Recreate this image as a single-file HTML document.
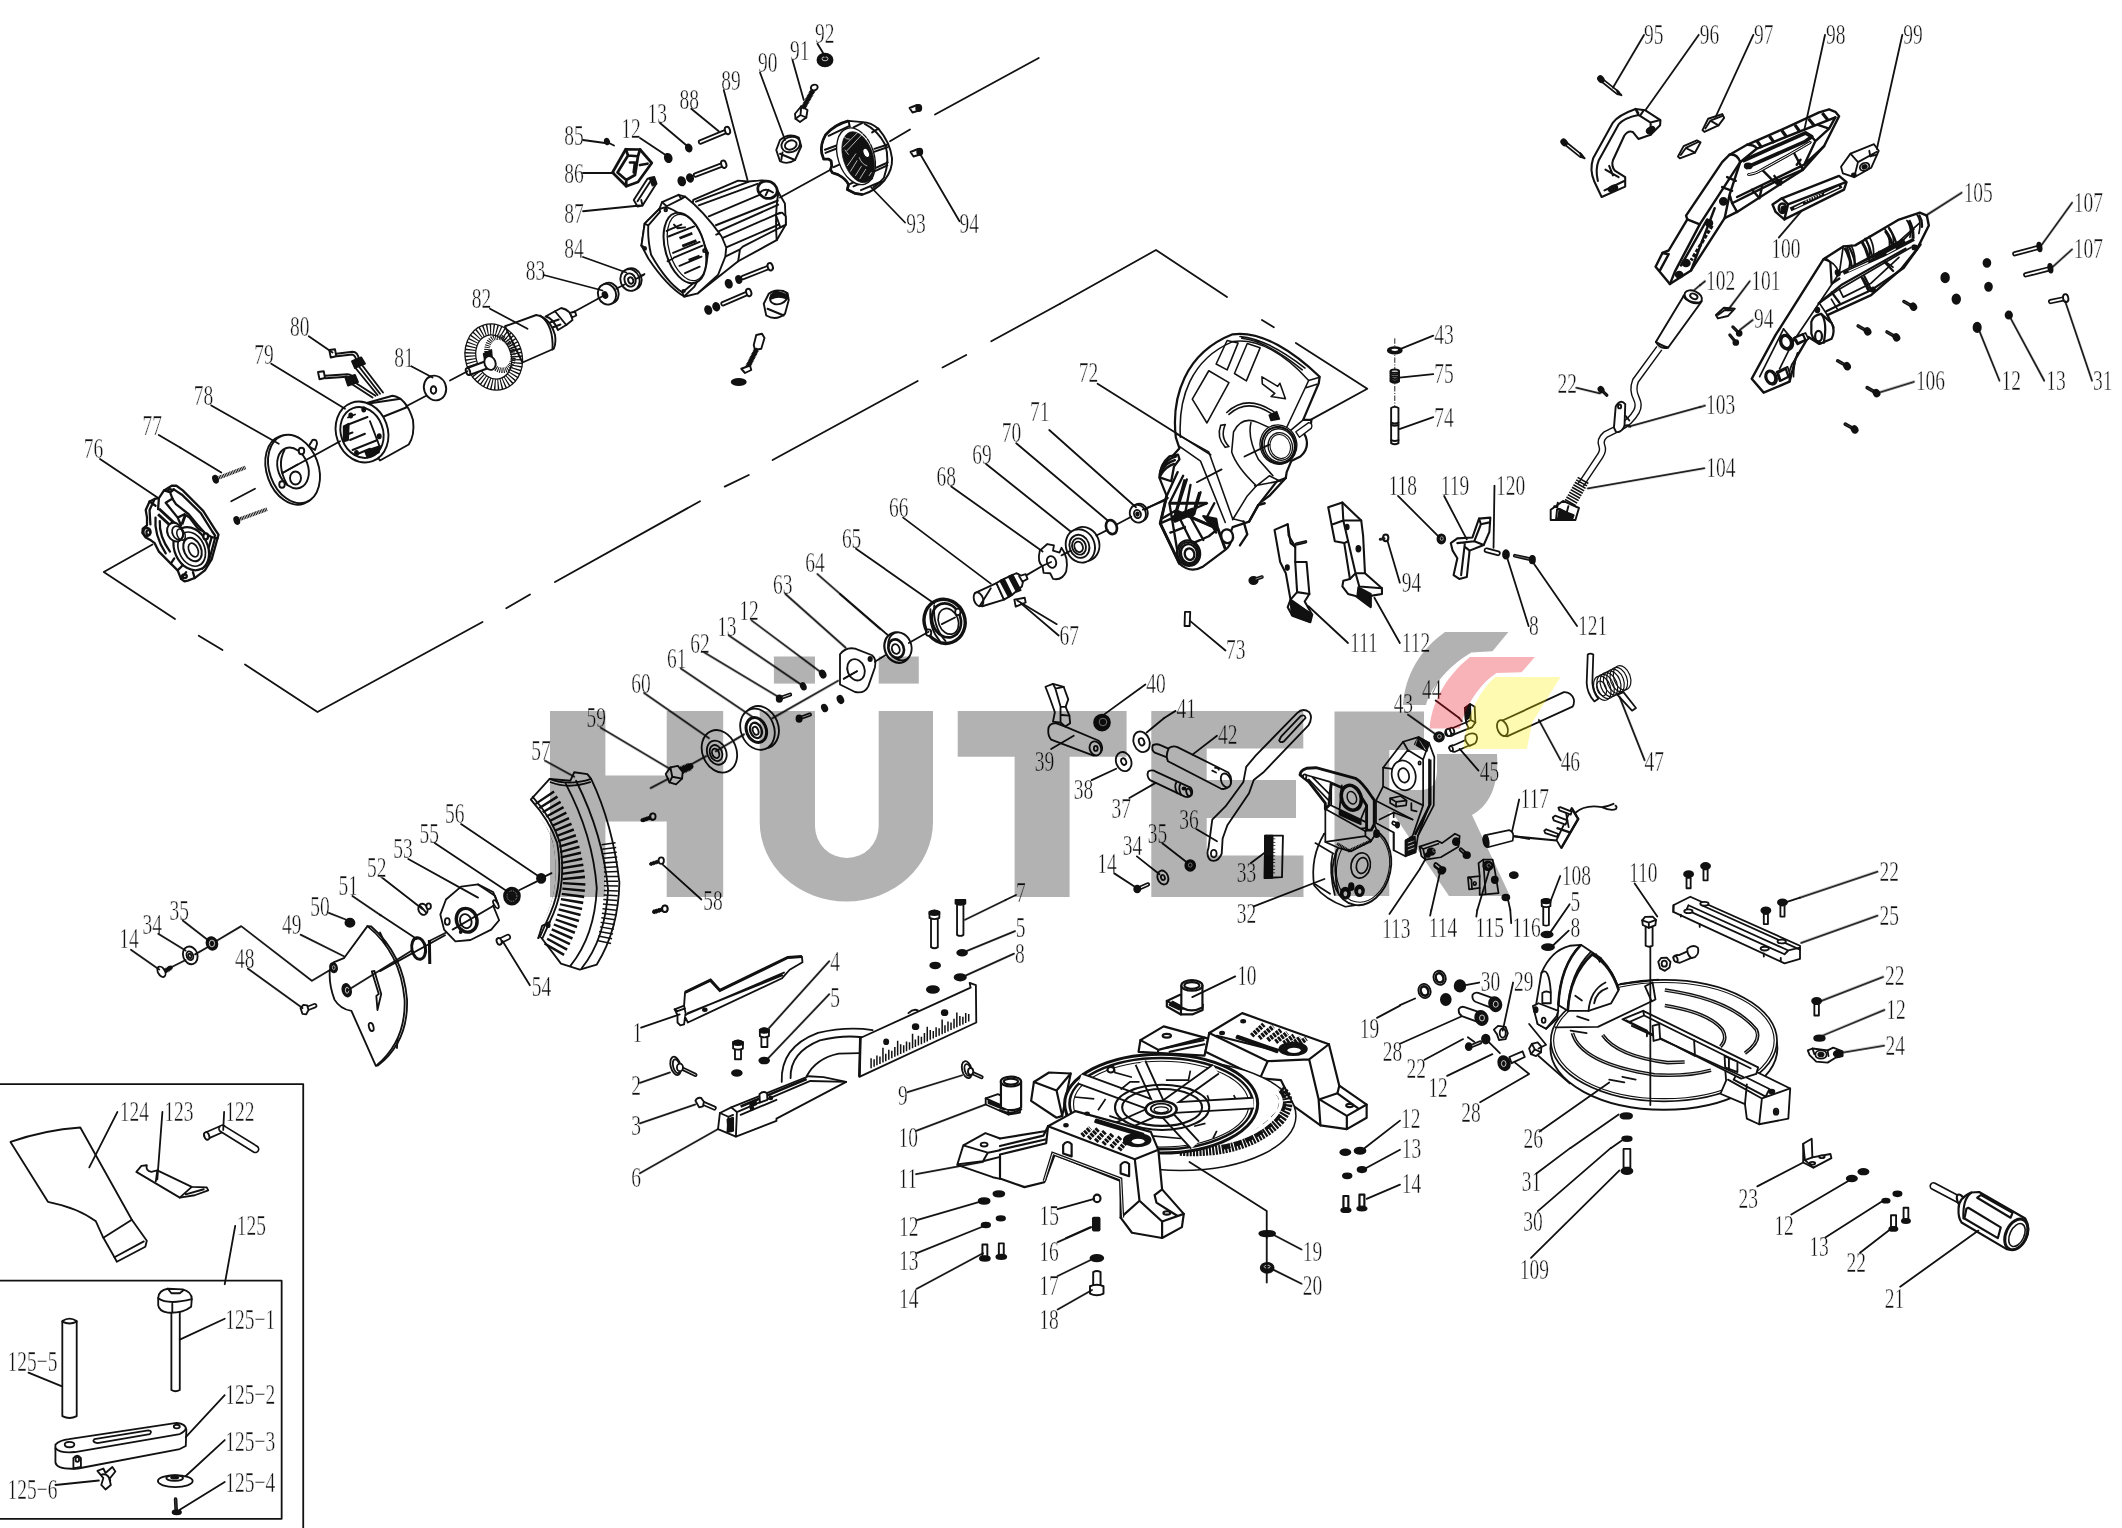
<!DOCTYPE html>
<html><head><meta charset="utf-8"><title>Exploded view</title>
<style>
html,body{margin:0;padding:0;background:#fff;}
svg{display:block}
.n{font-family:"Liberation Serif",serif;font-size:29.5px;fill:#111;stroke:#fff;stroke-width:0.45px}
.l{fill:none;stroke:#111;stroke-linecap:round;stroke-linejoin:round}
.p{fill:none;stroke:#111;stroke-linecap:round;stroke-linejoin:round}
.o{fill:#fff;stroke:#111;stroke-linecap:round;stroke-linejoin:round}
.d{fill:#111;stroke:#111;stroke-linejoin:round}
.t{fill:none;stroke:#111;stroke-linecap:butt}
</style></head>
<body>
<svg width="2122" height="1528" viewBox="0 0 2122 1528">
<rect width="2122" height="1528" fill="#fff"/>
<g transform="translate(180,200) scale(0.25000)" stroke-width="7.60">
<line x1="150" y1="1113" x2="262" y2="1070" stroke="#111" stroke-width="15" stroke-dasharray="4 2.5"/>
<ellipse cx="142" cy="1117" rx="9" ry="14" transform="rotate(-20 142 1117)" class="d"/>
<line x1="235" y1="1278" x2="348" y2="1237" stroke="#111" stroke-width="15" stroke-dasharray="4 2.5"/>
<ellipse cx="227" cy="1282" rx="9" ry="14" transform="rotate(-20 227 1282)" class="d"/>
<path d="M515,985 L530,960 Q548,955 548,975 L540,1000 Z" class="o"/>
<ellipse cx="447" cy="1080" rx="100" ry="143" transform="rotate(-20 447 1080)" class="o"/>
<ellipse cx="456" cy="1076" rx="98" ry="141" transform="rotate(-20 456 1076)" class="o"/>
<ellipse cx="452" cy="1072" rx="60" ry="84" transform="rotate(-20 452 1072)" class="o"/>
<path d="M418,1000 Q385,1060 428,1138" class="p"/>
<ellipse cx="486" cy="1004" rx="11" ry="13" transform="rotate(0 486 1004)" class="o"/>
<ellipse cx="408" cy="1138" rx="11" ry="13" transform="rotate(0 408 1138)" class="o"/>
<ellipse cx="462" cy="1112" rx="22" ry="26" transform="rotate(0 462 1112)" class="o"/>
<path d="M655,838 L850,783 Q905,790 932,880 Q940,940 915,978 L800,1042 Z" class="o"/>
<path d="M700,822 L882,795" class="p"/>
<path d="M905,830 L780,880" class="p"/>
<ellipse cx="728" cy="928" rx="103" ry="124" transform="rotate(-20 728 928)" class="o"/>
<ellipse cx="728" cy="930" rx="84" ry="104" transform="rotate(-20 728 930)" class="o"/>
<path d="M668,900 L750,868 M662,940 L690,930 M690,1000 L790,960 M700,1020 L760,995 M672,870 L700,858 M760,885 L800,990 M680,960 L740,935" class="p"/>
<path d="M740,1005 L800,985 L795,1010 L750,1030 Z" class="d"/>
<path d="M655,905 L675,895 L672,960 L655,965 Z" class="d"/>
<ellipse cx="683" cy="862" rx="6" ry="8" transform="rotate(0 683 862)" class="d"/>
<ellipse cx="735" cy="838" rx="6" ry="8" transform="rotate(0 735 838)" class="d"/>
<ellipse cx="797" cy="945" rx="6" ry="8" transform="rotate(0 797 945)" class="d"/>
<ellipse cx="706" cy="1012" rx="6" ry="8" transform="rotate(0 706 1012)" class="d"/>
<path d="M597,600 L620,597 L625,625 L603,630 Z" class="o"/>
<path d="M625,615 L690,607 Q712,607 716,640 M628,625 L688,618 Q702,620 706,645" class="p"/>
<path d="M688,645 L725,630 L740,655 L700,672 Z" class="d"/>
<path d="M715,665 L800,775 M728,660 L812,770 M702,672 L790,780" class="p"/>
<path d="M552,688 L575,685 L580,712 L558,717 Z" class="o"/>
<path d="M580,703 L670,697 Q690,698 692,715 M582,713 L668,707" class="p"/>
<path d="M662,712 L700,700 L712,728 L672,742 Z" class="d"/>
<path d="M690,738 L770,790 M700,730 L782,783" class="p"/>
<ellipse cx="1020" cy="752" rx="44" ry="50" transform="rotate(-20 1020 752)" class="o"/>
<ellipse cx="1014" cy="760" rx="11" ry="15" transform="rotate(0 1014 760)" class="o"/>
<path d="M1300,505 L1425,460 Q1480,470 1500,540 Q1505,575 1495,595 L1370,650 Z" class="o"/>
<path d="M1440,462 Q1495,500 1490,598" class="p"/>
<path d="M1462,466 L1500,445 Q1540,455 1545,500 L1512,520 Q1490,470 1462,466 Z" class="o"/>
<path d="M1500,445 L1525,432 Q1565,440 1570,480 L1545,500 Z" class="o"/>
<path d="M1560,452 L1580,446 L1585,462 L1568,470 Z" class="o"/>
<path d="M1480,490 L1515,478 M1490,510 L1522,498" class="p"/>
<ellipse cx="1255" cy="628" rx="92" ry="112" transform="rotate(-18 1255 628)" fill="none" stroke="#111" stroke-width="44" stroke-dasharray="5 7.5"/>
<ellipse cx="1255" cy="628" rx="113" ry="134" transform="rotate(-18 1255 628)" fill="none" stroke="#111" stroke-width="5"/>
<ellipse cx="1255" cy="628" rx="70" ry="90" transform="rotate(-18 1255 628)" fill="#fff" stroke="#111" stroke-width="5"/>
<ellipse cx="1280" cy="615" rx="50" ry="68" transform="rotate(-18 1280 615)" fill="none" stroke="#111" stroke-width="22" stroke-dasharray="4 4"/>
<path d="M1215,615 L1245,600 L1250,660 L1225,670 Z" class="d"/>
<path d="M1150,672 L1235,640 L1245,668 L1158,700 Z" class="o"/>
<ellipse cx="1152" cy="686" rx="8" ry="14" transform="rotate(-20 1152 686)" class="o"/>
<ellipse cx="1240" cy="652" rx="22" ry="28" transform="rotate(-20 1240 652)" class="o"/>
<ellipse cx="1718" cy="372" rx="36" ry="42" transform="rotate(-20 1718 372)" class="o"/>
<ellipse cx="1708" cy="377" rx="36" ry="42" transform="rotate(-20 1708 377)" class="o"/>
<ellipse cx="1700" cy="380" rx="9" ry="12" transform="rotate(-20 1700 380)" class="d"/>
<ellipse cx="1808" cy="316" rx="38" ry="44" transform="rotate(-20 1808 316)" class="o"/>
<ellipse cx="1800" cy="320" rx="38" ry="44" transform="rotate(-20 1800 320)" class="o"/>
<ellipse cx="1800" cy="320" rx="22" ry="27" transform="rotate(-20 1800 320)" class="o"/>
<ellipse cx="1803" cy="322" rx="10" ry="13" transform="rotate(-20 1803 322)" class="o"/>
</g>
<g transform="translate(530,0) scale(0.25000)" stroke-width="7.60">
<ellipse cx="308" cy="566" rx="8" ry="11" transform="rotate(-20 308 566)" class="d"/>
<g stroke-width="10.98">
<path d="M330,690 L383,597 L440,598 L487,652 L432,728 L385,745 Z" class="o"/>
<path d="M350,690 L392,622 L432,625 L420,700 L385,720 Z M385,745 L385,720 M392,622 L383,597 M432,625 L440,598 M400,650 L420,650 L415,690 M440,660 L470,655" class="p"/>
</g>
<path d="M415,800 L470,715 L495,712 L505,735 L450,822 L430,826 Z" class="o"/>
<path d="M430,805 L480,728 M450,822 L445,800" class="p"/>
<path d="M478,712 L497,708 L506,735 L490,742 Z" class="d"/>
<ellipse cx="553" cy="632" rx="13" ry="17" transform="rotate(-20 553 632)" class="d"/>
<ellipse cx="635" cy="592" rx="11" ry="14" transform="rotate(-20 635 592)" class="d"/>
<ellipse cx="607" cy="725" rx="13" ry="17" transform="rotate(-20 607 725)" class="d"/>
<ellipse cx="640" cy="712" rx="12" ry="15" transform="rotate(-20 640 712)" class="d"/>
<ellipse cx="795" cy="1135" rx="12" ry="16" transform="rotate(-20 795 1135)" class="d"/>
<ellipse cx="835" cy="1118" rx="10" ry="14" transform="rotate(-20 835 1118)" class="d"/>
<ellipse cx="713" cy="1240" rx="12" ry="16" transform="rotate(-20 713 1240)" class="d"/>
<ellipse cx="745" cy="1227" rx="12" ry="15" transform="rotate(-20 745 1227)" class="d"/>
<line x1="682" y1="568" x2="788" y2="524" stroke="#111" stroke-width="21" stroke-linecap="round"/><line x1="682" y1="568" x2="788" y2="524" stroke="#fff" stroke-width="7.4" stroke-linecap="round"/>
<ellipse cx="790" cy="522" rx="10" ry="15" transform="rotate(-20 790 522)" class="o"/>
<line x1="662" y1="700" x2="772" y2="658" stroke="#111" stroke-width="21" stroke-linecap="round"/><line x1="662" y1="700" x2="772" y2="658" stroke="#fff" stroke-width="7.4" stroke-linecap="round"/>
<ellipse cx="775" cy="657" rx="10" ry="15" transform="rotate(-20 775 657)" class="o"/>
<line x1="852" y1="1110" x2="958" y2="1068" stroke="#111" stroke-width="21" stroke-linecap="round"/><line x1="852" y1="1110" x2="958" y2="1068" stroke="#fff" stroke-width="7.4" stroke-linecap="round"/>
<ellipse cx="961" cy="1067" rx="10" ry="15" transform="rotate(-20 961 1067)" class="o"/>
<line x1="772" y1="1215" x2="872" y2="1172" stroke="#111" stroke-width="21" stroke-linecap="round"/><line x1="772" y1="1215" x2="872" y2="1172" stroke="#fff" stroke-width="7.4" stroke-linecap="round"/>
<ellipse cx="875" cy="1170" rx="10" ry="15" transform="rotate(-20 875 1170)" class="o"/>
<path d="M985,600 L1000,560 Q1035,530 1075,550 L1085,585 L1060,640 Q1030,660 1000,645 Z" class="o"/>
<ellipse cx="1043" cy="578" rx="38" ry="30" transform="rotate(-20 1043 578)" class="o"/>
<ellipse cx="1043" cy="580" rx="24" ry="18" transform="rotate(-20 1043 580)" class="o"/>
<path d="M1000,615 L1060,640 M1005,640 L1010,610" class="p"/>
<path d="M935,1215 L955,1175 Q985,1150 1030,1172 L1035,1200 L1020,1255 Q985,1285 945,1262 Z" class="o"/>
<ellipse cx="995" cy="1190" rx="36" ry="26" transform="rotate(-20 995 1190)" class="o"/>
<path d="M965,1180 Q995,1160 1025,1180 L1028,1195 Q995,1180 965,1195 Z" class="d"/>
<path d="M950,1235 L1015,1262" class="p"/>
<path d="M1060,455 L1085,425 L1110,440 L1105,470 L1080,488 L1062,475 Z" class="o"/>
<path d="M1085,425 L1082,460 L1105,470 M1082,460 L1062,475" class="p"/>
<line x1="1095" y1="428" x2="1135" y2="355" stroke="#111" stroke-width="17.16" stroke-linecap="round"/><line x1="1095" y1="428" x2="1135" y2="355" stroke="#111" stroke-width="22" stroke-dasharray="3.6 2.8"/>
<ellipse cx="1137" cy="350" rx="14" ry="11" transform="rotate(-20 1137 350)" class="o"/>
<path d="M905,1340 L928,1335 L938,1352 L925,1395 L900,1400 L895,1380 Z" class="o"/>
<line x1="905" y1="1400" x2="870" y2="1470" stroke="#111" stroke-width="17.16" stroke-linecap="round"/><line x1="905" y1="1400" x2="870" y2="1470" stroke="#111" stroke-width="22" stroke-dasharray="3.6 2.8"/>
<path d="M845,1475 L880,1462 L885,1480 L860,1492 Z" class="o"/>
<ellipse cx="1180" cy="240" rx="30" ry="25" transform="rotate(0 1180 240)" class="d"/>
<ellipse cx="1180" cy="235" rx="12" ry="8" fill="none" stroke="#fff" stroke-width="3"/>
<ellipse cx="835" cy="1528" rx="28" ry="12" transform="rotate(0 835 1528)" class="d"/>
<path d="M1518,432 L1548,420 Q1568,425 1562,440 L1530,450 Z" class="o"/>
<ellipse cx="1555" cy="432" rx="10" ry="12" transform="rotate(0 1555 432)" class="d"/>
<path d="M1522,608 L1552,596 Q1572,601 1566,616 L1534,626 Z" class="o"/>
<ellipse cx="1559" cy="607" rx="10" ry="12" transform="rotate(0 1559 607)" class="d"/>
</g>
<g transform="translate(0,382) scale(0.25000)" stroke-width="7.60">
</g>
<g transform="translate(1130,320) scale(0.18325)" stroke-width="10.37">
<line x1="1445" y1="100" x2="1445" y2="480" stroke="#111" stroke-width="5" stroke-dasharray="30 8 6 8"/>
<ellipse cx="1445" cy="166" rx="38" ry="17" transform="rotate(0 1445 166)" class="d"/>
<ellipse cx="1445" cy="163" rx="18" ry="6" fill="#fff"/>
<path d="M1422,280 Q1445,265 1468,280 L1468,335 Q1445,350 1422,335 Z" class="o"/>
<path d="M1422,292 Q1445,305 1468,292 M1422,304 Q1445,317 1468,304 M1422,316 Q1445,329 1468,316 M1422,328 Q1445,341 1468,328" class="p"/>
<ellipse cx="1445" cy="279" rx="23" ry="9" transform="rotate(0 1445 279)" class="o"/>
<path d="M1425,480 Q1445,468 1465,480 L1465,672 Q1445,684 1425,672 Z" class="o"/>
<path d="M1425,560 Q1445,570 1465,560 M1425,572 Q1445,582 1465,572 M1425,655 Q1445,665 1465,655" class="p"/>
<g stroke-width="12.20">
<path d="M250,640 C225,420 300,180 560,78 C720,55 900,180 1035,310 L1030,345 L945,545 L990,545 L985,585 L940,600 L960,640 Q980,700 930,745 L880,770 L855,830 L850,862 L800,882 L700,1010 L650,1100 L560,1130 L548,1160 Q565,1220 520,1255 L400,1345 Q330,1385 270,1330 L165,1110 L200,960 L160,860 Q165,780 230,745 L270,700 Z" class="o"/>
</g>
<g stroke-width="8.54">
<path d="M275,640 C262,430 330,215 560,118 C700,95 850,190 975,330" class="p"/>
<path d="M975,330 L1035,312 M975,330 L838,622 M960,370 L1020,350 M838,622 L880,600 L945,545" class="p"/>
<path d="M600,90 C720,100 850,180 955,262 M610,100 C720,112 840,190 940,272" class="p"/>
<path d="M470,240 L530,112 L590,125 L530,272 Z" class="p"/>
<path d="M570,292 L640,128 L710,152 L635,332 Z" class="p"/>
<path d="M340,432 L430,277 L540,342 L420,562 Z" class="p"/>
<path d="M720,310 L806,362 L818,345 L848,430 L770,418 L790,400 L722,348 Z" class="p"/>
<path d="M528,505 Q640,400 790,505 M540,515 Q640,425 770,510" class="p"/>
<path d="M760,520 L800,500 L815,540 L770,548 Z" class="d"/>
<path d="M838,622 L700,560 Q610,520 565,610 L555,720 Q580,800 690,905 L640,960 L560,1090" class="p"/>
<path d="M680,905 L800,882 M690,905 L760,850 L820,880" class="p"/>
<path d="M660,560 Q640,640 700,760 L780,850" class="p"/>
<path d="M250,620 L430,720 L560,1085 L620,1100 M270,690 L385,770 L520,1105" class="p"/>
<path d="M495,575 L520,570 Q490,640 540,690 L520,695 Q470,640 495,575" class="p"/>
</g>
<g stroke-width="7.32">
<ellipse cx="810" cy="680" rx="100" ry="108" transform="rotate(-15 810 680)" class="o"/>
<ellipse cx="815" cy="685" rx="82" ry="92" transform="rotate(-15 815 685)" class="o"/>
<ellipse cx="820" cy="690" rx="66" ry="76" transform="rotate(-15 820 690)" class="o"/>
<ellipse cx="812" cy="683" rx="91" ry="100" transform="rotate(-15 812 683)" fill="none" stroke="#111" stroke-width="12"/>
<ellipse cx="820" cy="690" rx="55" ry="66" transform="rotate(-15 820 690)" fill="#fff" stroke="#111" stroke-width="6"/>
<path d="M905,610 L975,560 Q1000,565 990,590 L925,640 Z" class="o"/>
</g>
<g stroke-width="12.81">
<path d="M165,860 Q160,790 215,745 L262,735 L270,760 L240,800 L225,880 Z" class="o"/>
<path d="M175,800 Q200,760 250,745 M170,825 Q195,780 245,765 M168,845 Q195,800 240,785" class="p"/>
<path d="M200,960 L260,830 M215,1000 L290,850 M165,1110 L420,1000 M240,1090 L310,870 M300,1060 L330,900 M350,1060 L385,940 M420,1075 L460,1000 M180,1080 L250,1040 L480,1140 M270,1330 L215,1000 M250,1040 L330,1200 M330,1075 L400,1200 M420,1075 L470,1160 M220,1160 L300,1130 M480,1140 L430,1180 L350,1215" class="p"/>
<path d="M230,1075 L340,1030 L350,1055 L245,1100 Z" class="d"/>
<path d="M200,960 L165,1110 L270,1330 M215,1000 L420,1000 M300,870 L240,1090 M380,940 L340,1070 M250,1040 L480,1140 L520,1250" fill="none" stroke="#111" stroke-width="16"/>
<path d="M400,1070 L470,1085 L480,1140 L440,1120 Z" class="d"/>
<ellipse cx="320" cy="1272" rx="62" ry="70" transform="rotate(-15 320 1272)" class="o"/>
<ellipse cx="322" cy="1275" rx="44" ry="52" transform="rotate(-15 322 1275)" class="o"/>
<ellipse cx="325" cy="1278" rx="26" ry="32" transform="rotate(-15 325 1278)" class="o"/>
<ellipse cx="321" cy="1273" rx="53" ry="61" transform="rotate(-15 321 1273)" fill="none" stroke="#111" stroke-width="10"/>
<ellipse cx="530" cy="1180" rx="32" ry="38" transform="rotate(-15 530 1180)" class="o"/>
<path d="M620,1100 L640,1170 L600,1230 M650,1100 L700,1010" class="p"/>
<path d="M720,990 L760,960 L850,862 M735,1000 L700,1010" class="p"/>
</g>
</g>
<g transform="translate(1530,0) scale(0.18850)" stroke-width="10.08">
<line x1="385" y1="428" x2="465" y2="492" stroke="#111" stroke-width="24" stroke-linecap="round"/><line x1="385" y1="428" x2="465" y2="492" stroke="#fff" stroke-width="5.963" stroke-linecap="round"/>
<ellipse cx="376" cy="420" rx="13" ry="17" transform="rotate(-40 376 420)" class="d"/>
<path d="M460,478 L485,505 L470,500 Z" class="d"/>
<line x1="190" y1="762" x2="270" y2="826" stroke="#111" stroke-width="24" stroke-linecap="round"/><line x1="190" y1="762" x2="270" y2="826" stroke="#fff" stroke-width="5.963" stroke-linecap="round"/>
<ellipse cx="181" cy="755" rx="13" ry="17" transform="rotate(-40 181 755)" class="d"/>
<path d="M266,812 L290,840 L274,834 Z" class="d"/>
<g stroke-width="10.98">
<path d="M380,1045 L340,960 Q315,900 335,840 L440,650 Q470,610 560,578 L612,585 L692,637 L690,665 L640,715 L575,737 L545,700 Q520,690 500,720 L440,850 Q430,880 450,905 L505,940 L505,990 Z" class="o"/>
<path d="M360,960 Q345,900 365,850 L470,660 Q500,625 575,610 L640,650 L690,637 M640,650 L640,715 M395,1010 L500,960 M575,610 L560,578 M400,900 L470,940 M420,880 L440,930 M560,578 L575,600 M600,590 L585,612" class="p"/>
<ellipse cx="640" cy="690" rx="22" ry="13" transform="rotate(-30 640 690)" class="d"/>
<ellipse cx="440" cy="1000" rx="24" ry="13" transform="rotate(-25 440 1000)" class="d"/>
</g>
<path d="M915,690 L945,630 L1020,605 L1030,625 L1000,665 L925,700 Z" class="o"/>
<path d="M930,682 L957,640 L1022,615 M957,640 L1000,665" class="p"/>
<path d="M785,830 L815,775 L885,745 L905,755 L875,810 L795,840 Z" class="o"/>
<path d="M800,822 L827,785 L895,752 M827,785 L875,810" class="p"/>
<g stroke-width="9.76">
<path d="M1650,885 L1700,815 L1825,765 L1850,800 L1810,890 L1720,940 L1660,920 Z" class="o"/>
<path d="M1700,815 L1740,860 L1720,940 M1740,860 L1840,805 M1800,800 L1805,830 L1840,820" class="p"/>
<ellipse cx="1775" cy="885" rx="26" ry="20" transform="rotate(-25 1775 885)" class="o"/>
<ellipse cx="1775" cy="885" rx="12" ry="9" transform="rotate(-25 1775 885)" class="d"/>
<ellipse cx="1718" cy="928" rx="10" ry="8" transform="rotate(0 1718 928)" class="d"/>
</g>
</g>
<g transform="translate(1700,130) scale(0.19897)" stroke-width="9.55">
<line x1="1582" y1="622" x2="1698" y2="591" stroke="#111" stroke-width="26" stroke-linecap="round"/><line x1="1582" y1="622" x2="1698" y2="591" stroke="#fff" stroke-width="8.9116" stroke-linecap="round"/>
<ellipse cx="1706" cy="588" rx="10" ry="22" transform="rotate(-10 1706 588)" class="d"/>
<line x1="1637" y1="728" x2="1753" y2="698" stroke="#111" stroke-width="26" stroke-linecap="round"/><line x1="1637" y1="728" x2="1753" y2="698" stroke="#fff" stroke-width="8.9116" stroke-linecap="round"/>
<ellipse cx="1761" cy="695" rx="10" ry="22" transform="rotate(-10 1761 695)" class="d"/>
<line x1="1762" y1="862" x2="1825" y2="849" stroke="#111" stroke-width="26" stroke-linecap="round"/><line x1="1762" y1="862" x2="1825" y2="849" stroke="#fff" stroke-width="8.9116" stroke-linecap="round"/>
<ellipse cx="1838" cy="845" rx="13" ry="20" transform="rotate(-10 1838 845)" class="o"/>
<ellipse cx="1442" cy="668" rx="17" ry="20" transform="rotate(0 1442 668)" class="d"/>
<ellipse cx="1232" cy="742" rx="19" ry="24" transform="rotate(0 1232 742)" class="d"/>
<ellipse cx="1450" cy="788" rx="17" ry="20" transform="rotate(0 1450 788)" class="d"/>
<ellipse cx="1288" cy="850" rx="19" ry="24" transform="rotate(0 1288 850)" class="d"/>
<ellipse cx="1552" cy="930" rx="16" ry="18" transform="rotate(0 1552 930)" class="d"/>
<ellipse cx="1393" cy="992" rx="18" ry="24" transform="rotate(0 1393 992)" class="d"/>
<line x1="1025" y1="862" x2="1060" y2="882" stroke="#111" stroke-width="18" stroke-linecap="round"/><line x1="1025" y1="862" x2="1060" y2="882" stroke="#fff" stroke-width="0.9116" stroke-linecap="round"/>
<ellipse cx="1072" cy="888" rx="14" ry="17" transform="rotate(-30 1072 888)" class="d"/>
<line x1="795" y1="985" x2="830" y2="1005" stroke="#111" stroke-width="18" stroke-linecap="round"/><line x1="795" y1="985" x2="830" y2="1005" stroke="#fff" stroke-width="0.9116" stroke-linecap="round"/>
<ellipse cx="842" cy="1012" rx="14" ry="17" transform="rotate(-30 842 1012)" class="d"/>
<line x1="940" y1="1015" x2="975" y2="1035" stroke="#111" stroke-width="18" stroke-linecap="round"/><line x1="940" y1="1015" x2="975" y2="1035" stroke="#fff" stroke-width="0.9116" stroke-linecap="round"/>
<ellipse cx="987" cy="1042" rx="14" ry="17" transform="rotate(-30 987 1042)" class="d"/>
<line x1="692" y1="1160" x2="727" y2="1180" stroke="#111" stroke-width="18" stroke-linecap="round"/><line x1="692" y1="1160" x2="727" y2="1180" stroke="#fff" stroke-width="0.9116" stroke-linecap="round"/>
<ellipse cx="739" cy="1187" rx="14" ry="17" transform="rotate(-30 739 1187)" class="d"/>
<line x1="840" y1="1295" x2="875" y2="1315" stroke="#111" stroke-width="18" stroke-linecap="round"/><line x1="840" y1="1295" x2="875" y2="1315" stroke="#fff" stroke-width="0.9116" stroke-linecap="round"/>
<ellipse cx="887" cy="1322" rx="14" ry="17" transform="rotate(-30 887 1322)" class="d"/>
<line x1="730" y1="1478" x2="765" y2="1498" stroke="#111" stroke-width="18" stroke-linecap="round"/><line x1="730" y1="1478" x2="765" y2="1498" stroke="#fff" stroke-width="0.9116" stroke-linecap="round"/>
<ellipse cx="777" cy="1505" rx="14" ry="17" transform="rotate(-30 777 1505)" class="d"/>
<line x1="165" y1="990" x2="190" y2="1015" stroke="#111" stroke-width="16" stroke-linecap="round"/><line x1="165" y1="990" x2="190" y2="1015" stroke="#fff" stroke-width="0.5" stroke-linecap="round"/>
<ellipse cx="197" cy="1022" rx="12" ry="12" transform="rotate(0 197 1022)" class="d"/>
<line x1="150" y1="1030" x2="175" y2="1060" stroke="#111" stroke-width="16" stroke-linecap="round"/><line x1="150" y1="1030" x2="175" y2="1060" stroke="#fff" stroke-width="0.5" stroke-linecap="round"/>
<ellipse cx="180" cy="1068" rx="12" ry="12" transform="rotate(0 180 1068)" class="d"/>
<path d="M80,930 L120,893 L175,898 L140,935 L90,947 Z" class="o"/>
<path d="M90,930 L125,905 L165,906" class="p"/>
<g stroke-width="12.20">
<path d="M260,1250 L320,1320 L450,1265 L480,1150 L545,1040 L600,1075 L660,1040 L670,990 L640,930 L860,830 L1010,700 L1090,600 L1150,480 L1140,430 L1105,415 L1000,450 L780,580 L720,585 L620,650 L380,1030 Z" class="o"/>
</g>
<g stroke-width="8.54">
<path d="M620,650 Q680,660 700,720 L470,1060 L420,1000 M700,720 L720,585 M700,720 L1000,560 L1100,470" class="p"/>
<path d="M420,1000 L300,1240 M470,1060 L400,1200 M640,930 L600,870 L700,800 L1060,590" class="p"/>
<path d="M740,590 Q760,640 750,690 M760,580 Q785,630 775,680 M830,545 Q860,590 850,650 M850,535 Q880,585 870,640 M930,500 Q960,540 950,600 M950,490 Q980,530 970,590 M1040,455 Q1065,490 1055,540 M1090,425 Q1115,460 1100,520" class="p"/>
<path d="M700,800 L720,840 L860,770 L1000,640 M820,745 L850,800 M930,660 L970,690 M660,850 L690,900" class="p"/>
<path d="M760,690 L1000,575 L1075,500 M880,640 L900,610" class="p"/>
<path d="M880,625 L1020,550 L1030,565 L890,642 Z" class="d"/>
<ellipse cx="690" cy="715" rx="9" ry="11" transform="rotate(0 690 715)" class="d"/>
<ellipse cx="1075" cy="590" rx="8" ry="10" transform="rotate(0 1075 590)" class="d"/>
<ellipse cx="870" cy="800" rx="8" ry="9" transform="rotate(0 870 800)" class="d"/>
<ellipse cx="590" cy="905" rx="10" ry="12" transform="rotate(0 590 905)" class="d"/>
<ellipse cx="440" cy="1070" rx="28" ry="36" transform="rotate(-20 440 1070)" class="o"/>
<ellipse cx="445" cy="1072" rx="16" ry="22" transform="rotate(-20 445 1072)" class="o"/>
<ellipse cx="600" cy="1035" rx="20" ry="28" transform="rotate(-20 600 1035)" class="o"/>
<path d="M470,1045 L530,1020 L545,1050 L490,1078 Z" class="o"/>
<ellipse cx="360" cy="1245" rx="26" ry="36" transform="rotate(-20 360 1245)" class="o"/>
<ellipse cx="364" cy="1247" rx="14" ry="22" transform="rotate(-20 364 1247)" class="o"/>
<path d="M385,1215 L440,1190 L455,1235 L400,1262 Z" class="o"/>
<path d="M450,1265 Q440,1200 480,1150 M490,1120 Q470,1180 470,1240" class="p"/>
</g>
</g>
<g transform="translate(1480,250) scale(0.17671)" stroke-width="10.75">
<ellipse cx="685" cy="790" rx="13" ry="16" transform="rotate(-40 685 790)" class="d"/>
<line x1="695" y1="800" x2="718" y2="822" stroke="#111" stroke-width="18" stroke-linecap="round"/><line x1="695" y1="800" x2="718" y2="822" stroke="#fff" stroke-width="0.5" stroke-linecap="round"/>
<path d="M1160,248 L995,520 Q1020,565 1065,552 L1255,290 Z" class="o"/>
<ellipse cx="1207" cy="265" rx="52" ry="33" transform="rotate(25 1207 265)" class="o"/>
<ellipse cx="1210" cy="262" rx="22" ry="14" transform="rotate(25 1210 262)" class="o"/>
<path d="M995,520 Q1035,545 1065,552 M1150,262 Q1175,300 1245,298" class="p"/>
<path d="M1015,555 L880,740 Q860,790 885,840 Q905,880 885,915 Q850,975 790,1005 L710,1045 Q675,1075 690,1110 Q700,1135 680,1165 L570,1330" fill="none" stroke="#111" stroke-width="42" stroke-linejoin="round"/>
<path d="M1015,555 L880,740 Q860,790 885,840 Q905,880 885,915 Q850,975 790,1005 L710,1045 Q675,1075 690,1110 Q700,1135 680,1165 L570,1330" fill="none" stroke="#fff" stroke-width="26" stroke-linejoin="round"/>
<path d="M758,1005 L768,885 Q795,840 822,872 L818,995 Q800,1035 770,1030 Z" class="o"/>
<ellipse cx="790" cy="885" rx="9" ry="11" transform="rotate(0 790 885)" class="o"/>
<path d="M818,995 Q840,985 850,1000 M825,940 L845,965" class="p"/>
<g stroke-width="10.98">
<line x1="585" y1="1300" x2="500" y2="1450" stroke="#111" stroke-width="70" stroke-dasharray="9 7"/>
<path d="M470,1420 L560,1460 L540,1528 L400,1528 L400,1470 Z" class="o"/>
<path d="M420,1450 L520,1500 M440,1430 L430,1528 M500,1450 L480,1528" class="p"/>
<path d="M450,1470 L530,1500 L520,1528 L440,1528 Z" class="d"/>
</g>
</g>
<g transform="translate(1250,430) scale(0.18850)" stroke-width="10.08">
<g stroke-width="10.98">
<path d="M130,530 L200,500 L215,600 L240,620 L240,700 L300,700 L315,870 L290,910 L330,980 L320,1020 L225,985 L200,940 L215,900 L190,760 L160,700 Z" class="o"/>
<path d="M200,500 L205,560 L240,620 M240,700 L250,860 L215,900 M250,860 L315,870 M215,900 L330,980" class="p"/>
<line x1="245" y1="605" x2="295" y2="593" stroke="#111" stroke-width="18" stroke-linecap="round"/><line x1="245" y1="605" x2="295" y2="593" stroke="#fff" stroke-width="0.5" stroke-linecap="round"/>
<path d="M215,905 L325,978 L318,1018 L222,982 Z" class="d"/>
<ellipse cx="198" cy="730" rx="8" ry="12" transform="rotate(0 198 730)" class="d"/>
<path d="M415,410 L490,385 L590,480 L600,560 L610,760 L700,840 L700,870 L640,880 L640,940 L560,880 L520,870 L490,830 L495,800 L530,790 L500,600 L450,590 L440,540 Z" class="o"/>
<path d="M490,385 L495,480 L590,480 M495,480 L440,500 M495,480 L560,760 L530,790 M560,760 L610,760 M560,760 L580,830 L700,840 M500,600 L520,590" class="p"/>
<path d="M575,835 L640,870 L640,935 L570,880 Z" class="d"/>
<ellipse cx="575" cy="630" rx="10" ry="14" transform="rotate(0 575 630)" class="d"/>
<ellipse cx="515" cy="515" rx="8" ry="12" transform="rotate(0 515 515)" class="d"/>
<ellipse cx="720" cy="572" rx="14" ry="18" transform="rotate(0 720 572)" class="o"/>
<line x1="690" y1="580" x2="712" y2="576" stroke="#111" stroke-width="14" stroke-linecap="round"/><line x1="690" y1="580" x2="712" y2="576" stroke="#fff" stroke-width="0.5" stroke-linecap="round"/>
<ellipse cx="1015" cy="578" rx="20" ry="24" transform="rotate(0 1015 578)" class="d"/>
<ellipse cx="1017" cy="576" rx="8" ry="10" fill="none" stroke="#fff" stroke-width="3"/>
<path d="M1065,600 L1100,575 L1180,570 L1215,470 L1275,465 L1270,540 L1240,610 L1165,640 L1150,780 L1110,790 L1080,770 L1100,680 L1075,640 Z" class="o"/>
<path d="M1215,470 L1225,500 L1270,490 M1225,500 L1190,590 L1240,610 M1190,590 L1100,600 M1140,600 L1120,770 M1165,640 L1140,620" class="p"/>
<line x1="1255" y1="638" x2="1315" y2="654" stroke="#111" stroke-width="30" stroke-linecap="round"/><line x1="1255" y1="638" x2="1315" y2="654" stroke="#fff" stroke-width="11.963" stroke-linecap="round"/>
<ellipse cx="1358" cy="660" rx="15" ry="22" transform="rotate(0 1358 660)" class="d"/>
<line x1="1405" y1="667" x2="1485" y2="685" stroke="#111" stroke-width="20" stroke-linecap="round"/><line x1="1405" y1="667" x2="1485" y2="685" stroke="#fff" stroke-width="1.963" stroke-linecap="round"/>
<ellipse cx="1498" cy="688" rx="13" ry="19" transform="rotate(0 1498 688)" class="d"/>
</g>
</g>
<g transform="translate(840,430) scale(0.18850)" stroke-width="10.08">
<g stroke-width="9.76">
<ellipse cx="1590" cy="438" rx="42" ry="48" transform="rotate(-20 1590 438)" class="o"/>
<ellipse cx="1580" cy="444" rx="42" ry="48" transform="rotate(-20 1580 444)" class="o"/>
<ellipse cx="1578" cy="446" rx="18" ry="22" transform="rotate(-20 1578 446)" class="o"/>
<ellipse cx="1578" cy="446" rx="7" ry="9" transform="rotate(0 1578 446)" class="d"/>
<ellipse cx="1440" cy="515" rx="28" ry="38" transform="rotate(-20 1440 515)" fill="none" stroke="#111" stroke-width="14"/>
<ellipse cx="1295" cy="605" rx="80" ry="92" transform="rotate(-20 1295 605)" class="o"/>
<ellipse cx="1275" cy="615" rx="76" ry="90" transform="rotate(-20 1275 615)" class="o"/>
<ellipse cx="1270" cy="617" rx="52" ry="62" transform="rotate(-20 1270 617)" class="o"/>
<ellipse cx="1268" cy="618" rx="36" ry="44" transform="rotate(-20 1268 618)" class="o"/>
<ellipse cx="1266" cy="620" rx="22" ry="28" transform="rotate(-20 1266 620)" class="o"/>
<path d="M1060,640 L1100,605 L1135,612 L1130,640 L1165,650 L1175,625 Q1215,680 1200,750 Q1180,800 1130,790 L1115,760 L1080,758 L1075,725 Q1045,700 1060,640 Z" class="o"/>
<ellipse cx="1122" cy="700" rx="24" ry="32" transform="rotate(-20 1122 700)" class="o"/>
<path d="M715,865 L830,812 L870,900 L755,935 Q725,935 712,900 Z" class="o"/>
<ellipse cx="735" cy="898" rx="24" ry="38" transform="rotate(-20 735 898)" class="o"/>
<path d="M830,812 L860,795 L905,880 L870,900 Z" class="o"/>
<path d="M850,800 L870,790 L912,875 L895,885 Z" class="d"/>
<path d="M870,790 L935,760 Q960,765 972,800 L965,830 L912,875 Z" class="o"/>
<path d="M895,778 L915,768 L958,850 L938,858 Z" class="d"/>
<path d="M950,775 L985,765 L995,790 L968,805 Z" class="o"/>
<path d="M740,935 L800,840" class="p"/>
<path d="M925,900 L980,890 L985,915 L932,937 Z" class="o"/>
<ellipse cx="555" cy="1015" rx="108" ry="118" transform="rotate(-20 555 1015)" fill="#fff" stroke="#111" stroke-width="18"/>
<ellipse cx="565" cy="1010" rx="75" ry="92" transform="rotate(-20 565 1010)" fill="#fff" stroke="#111" stroke-width="14"/>
<ellipse cx="575" cy="1015" rx="52" ry="70" transform="rotate(-20 575 1015)" fill="none" stroke="#111" stroke-width="9"/>
<ellipse cx="625" cy="965" rx="14" ry="17" transform="rotate(0 625 965)" class="o"/>
<ellipse cx="470" cy="1075" rx="14" ry="17" transform="rotate(0 470 1075)" class="o"/>
<path d="M480,950 Q470,1050 530,1120 M500,930 Q490,1040 560,1120" class="p"/>
<ellipse cx="305" cy="1155" rx="68" ry="82" transform="rotate(-20 305 1155)" fill="#fff" stroke="#111" stroke-width="12"/>
<ellipse cx="318" cy="1148" rx="60" ry="76" transform="rotate(-20 318 1148)" class="o"/>
<ellipse cx="298" cy="1160" rx="40" ry="50" transform="rotate(-20 298 1160)" fill="#fff" stroke="#111" stroke-width="14"/>
<ellipse cx="296" cy="1162" rx="20" ry="26" transform="rotate(-20 296 1162)" class="o"/>
<path d="M0,1190 Q30,1150 80,1160 L170,1195 Q195,1215 185,1260 L150,1360 Q130,1400 80,1390 L0,1350 Z" class="o"/>
<ellipse cx="85" cy="1272" rx="45" ry="58" transform="rotate(-20 85 1272)" class="o"/>
<ellipse cx="160" cy="1215" rx="9" ry="11" transform="rotate(0 160 1215)" class="d"/>
<path d="M1830,965 L1858,965 L1855,1040 L1828,1040 Z" class="o"/>
</g>
</g>
<g transform="translate(480,560) scale(0.18850)" stroke-width="10.08">
<g stroke-width="9.76">
<ellipse cx="1818" cy="605" rx="14" ry="20" transform="rotate(-25 1818 605)" class="d"/>
<ellipse cx="1715" cy="670" rx="12" ry="18" transform="rotate(-25 1715 670)" class="d"/>
<ellipse cx="1912" cy="740" rx="14" ry="20" transform="rotate(-25 1912 740)" class="d"/>
<ellipse cx="1828" cy="785" rx="13" ry="18" transform="rotate(-25 1828 785)" class="d"/>
<line x1="1600" y1="730" x2="1645" y2="714" stroke="#111" stroke-width="22" stroke-linecap="round"/><line x1="1600" y1="730" x2="1645" y2="714" stroke="#fff" stroke-width="3.963" stroke-linecap="round"/>
<ellipse cx="1588" cy="736" rx="14" ry="17" transform="rotate(0 1588 736)" class="d"/>
<line x1="1705" y1="836" x2="1750" y2="820" stroke="#111" stroke-width="22" stroke-linecap="round"/><line x1="1705" y1="836" x2="1750" y2="820" stroke="#fff" stroke-width="3.963" stroke-linecap="round"/>
<ellipse cx="1693" cy="842" rx="14" ry="17" transform="rotate(0 1693 842)" class="d"/>
<ellipse cx="1490" cy="888" rx="92" ry="116" transform="rotate(-22 1490 888)" class="o"/>
<ellipse cx="1472" cy="898" rx="88" ry="112" transform="rotate(-22 1472 898)" class="o"/>
<ellipse cx="1466" cy="902" rx="52" ry="68" transform="rotate(-22 1466 902)" fill="#fff" stroke="#111" stroke-width="16"/>
<ellipse cx="1464" cy="904" rx="30" ry="42" transform="rotate(-22 1464 904)" fill="#fff" stroke="#111" stroke-width="12"/>
<ellipse cx="1462" cy="906" rx="14" ry="22" transform="rotate(-22 1462 906)" class="o"/>
<ellipse cx="1270" cy="1015" rx="90" ry="116" transform="rotate(-22 1270 1015)" class="o"/>
<ellipse cx="1256" cy="1022" rx="50" ry="66" transform="rotate(-22 1256 1022)" class="o"/>
<ellipse cx="1252" cy="1024" rx="32" ry="44" transform="rotate(-22 1252 1024)" class="o"/>
<ellipse cx="1250" cy="1026" rx="18" ry="26" transform="rotate(-22 1250 1026)" class="o"/>
<line x1="1070" y1="1115" x2="1115" y2="1095" stroke="#111" stroke-width="34.32" stroke-linecap="round"/><line x1="1070" y1="1115" x2="1115" y2="1095" stroke="#111" stroke-width="44" stroke-dasharray="4.8 3.7"/>
<path d="M985,1135 L1010,1100 L1050,1092 L1075,1125 L1072,1160 L1040,1190 L1005,1180 Z" class="o"/>
<path d="M1010,1100 L1020,1150 L1005,1180 M1020,1150 L1072,1160" class="p"/>
<line x1="862" y1="1382" x2="900" y2="1368" stroke="#111" stroke-width="15.6" stroke-linecap="round"/><line x1="862" y1="1382" x2="900" y2="1368" stroke="#111" stroke-width="20" stroke-dasharray="4.8 3.7"/>
<ellipse cx="915" cy="1362" rx="13" ry="16" transform="rotate(0 915 1362)" class="o"/>
</g>
</g>
<g transform="translate(380,760) scale(0.18850)" stroke-width="10.08">
<g stroke-width="9.76">
<path d="M800,210 L900,100 L1010,110 L1030,65 L1100,75 L1120,100 Q1235,340 1270,650 Q1265,900 1150,1085 L1060,1112 L960,1080 L850,935 L905,810 Q975,650 940,440 Q900,320 800,210 Z" class="o"/>
<path d="M985,125 Q1130,400 1150,680 Q1140,930 1010,1092 M1040,110 Q1185,400 1210,690 Q1195,950 1070,1105" class="p"/>
<path d="M800,235 Q900,340 925,450 Q960,650 895,810 L840,945 M900,100 Q1000,140 1120,100 M905,118 Q1000,155 1115,118" class="p"/>
<path d="M870,195 Q1010,400 1030,650 Q1020,850 915,1020" fill="none" stroke="#111" stroke-width="120" stroke-dasharray="13 17.5"/>
<path d="M785,215 Q910,330 935,450 Q970,650 905,810 L850,935" fill="none" stroke="#fff" stroke-width="30"/>
<path d="M800,210 Q900,320 940,440 Q975,650 905,810 L850,935 M810,195 Q915,310 955,440 Q990,650 920,815 L862,945" class="p"/>
<path d="M1212,440 Q1250,700 1185,985" fill="none" stroke="#111" stroke-width="75" stroke-dasharray="8 17"/>
<path d="M840,945 L860,880 L900,860" class="p"/>
<ellipse cx="892" cy="875" rx="8" ry="12" transform="rotate(0 892 875)" class="d"/>
<ellipse cx="855" cy="628" rx="22" ry="24" transform="rotate(0 855 628)" class="d"/>
<ellipse cx="700" cy="722" rx="42" ry="45" transform="rotate(0 700 722)" class="d"/>
<ellipse cx="700" cy="722" rx="26" ry="28" fill="none" stroke="#999" stroke-width="5" stroke-dasharray="5 5"/>
<path d="M320,820 L350,740 L430,672 L520,660 L610,720 L625,762 L600,772 L632,850 L590,900 L480,955 L400,962 L340,900 Z" class="o"/>
<path d="M520,660 L600,700 L625,762" class="p"/>
<ellipse cx="460" cy="850" rx="54" ry="64" transform="rotate(-20 460 850)" fill="#fff" stroke="#111" stroke-width="18"/>
<ellipse cx="455" cy="855" rx="30" ry="38" transform="rotate(-20 455 855)" fill="#fff" stroke="#111" stroke-width="10"/>
<ellipse cx="357" cy="857" rx="13" ry="18" transform="rotate(0 357 857)" class="o"/>
<ellipse cx="615" cy="765" rx="10" ry="24" transform="rotate(-30 615 765)" class="o"/>
<ellipse cx="428" cy="912" rx="5" ry="6" transform="rotate(0 428 912)" class="d"/>
<ellipse cx="228" cy="792" rx="24" ry="30" transform="rotate(-20 228 792)" class="o"/>
<ellipse cx="258" cy="776" rx="12" ry="15" transform="rotate(0 258 776)" class="o"/>
<path d="M215,775 L245,810" class="p"/>
<line x1="640" y1="958" x2="678" y2="940" stroke="#111" stroke-width="34" stroke-linecap="round"/><line x1="640" y1="958" x2="678" y2="940" stroke="#fff" stroke-width="15.963" stroke-linecap="round"/>
<ellipse cx="632" cy="962" rx="13" ry="18" transform="rotate(-20 632 962)" class="o"/>
<ellipse cx="205" cy="1000" rx="36" ry="58" transform="rotate(-10 205 1000)" fill="none" stroke="#111" stroke-width="16"/>
<line x1="262" y1="955" x2="264" y2="1082" stroke="#111" stroke-width="16"/>
<path d="M0,915 Q120,1150 90,1528 M0,960 Q95,1170 62,1528" class="p"/>
<line x1="1390" y1="320" x2="1432" y2="306" stroke="#111" stroke-width="17.16" stroke-linecap="round"/><line x1="1390" y1="320" x2="1432" y2="306" stroke="#111" stroke-width="22" stroke-dasharray="4.8 3.7"/>
<ellipse cx="1448" cy="300" rx="14" ry="17" transform="rotate(0 1448 300)" class="o"/>
<line x1="1436" y1="552" x2="1478" y2="538" stroke="#111" stroke-width="17.16" stroke-linecap="round"/><line x1="1436" y1="552" x2="1478" y2="538" stroke="#111" stroke-width="22" stroke-dasharray="4.8 3.7"/>
<ellipse cx="1492" cy="534" rx="14" ry="17" transform="rotate(0 1492 534)" class="o"/>
<line x1="1452" y1="804" x2="1498" y2="792" stroke="#111" stroke-width="17.16" stroke-linecap="round"/><line x1="1452" y1="804" x2="1498" y2="792" stroke="#111" stroke-width="22" stroke-dasharray="4.8 3.7"/>
<ellipse cx="1512" cy="790" rx="14" ry="17" transform="rotate(0 1512 790)" class="o"/>
</g>
</g>
<g transform="translate(80,830) scale(0.18850)" stroke-width="10.08">
<g stroke-width="9.76">
<line x1="452" y1="748" x2="482" y2="730" stroke="#111" stroke-width="21.84" stroke-linecap="round"/><line x1="452" y1="748" x2="482" y2="730" stroke="#111" stroke-width="28" stroke-dasharray="4.8 3.7"/>
<ellipse cx="432" cy="752" rx="18" ry="30" transform="rotate(-30 432 752)" class="o"/>
<ellipse cx="585" cy="665" rx="38" ry="48" transform="rotate(-20 585 665)" class="o"/>
<ellipse cx="583" cy="667" rx="17" ry="24" transform="rotate(-20 583 667)" class="o"/>
<ellipse cx="583" cy="668" rx="8" ry="12" transform="rotate(-20 583 668)" class="o"/>
<ellipse cx="700" cy="602" rx="28" ry="34" transform="rotate(-20 700 602)" class="d"/>
<ellipse cx="700" cy="602" rx="14" ry="18" fill="none" stroke="#fff" stroke-width="4"/>
<line x1="1212" y1="945" x2="1245" y2="932" stroke="#111" stroke-width="28" stroke-linecap="round"/><line x1="1212" y1="945" x2="1245" y2="932" stroke="#fff" stroke-width="9.963" stroke-linecap="round"/>
<path d="M1170,945 L1185,928 L1205,930 L1212,955 L1200,978 L1180,975 Z" class="o"/>
<ellipse cx="1432" cy="492" rx="24" ry="22" transform="rotate(0 1432 492)" class="d"/>
<path d="M1525,510 Q1700,650 1722,900 Q1730,1120 1570,1252 L1440,960 Q1380,950 1350,900 Q1320,820 1325,745 L1345,702 L1400,680 Z" class="o"/>
<path d="M1545,512 Q1715,660 1735,900 Q1742,1125 1580,1250 M1525,510 L1545,512" class="p"/>
<ellipse cx="1415" cy="850" rx="22" ry="34" transform="rotate(-15 1415 850)" class="d"/>
<ellipse cx="1417" cy="850" rx="9" ry="16" fill="none" stroke="#fff" stroke-width="4"/>
<ellipse cx="1345" cy="730" rx="18" ry="25" transform="rotate(-15 1345 730)" class="d"/>
<ellipse cx="1346" cy="730" rx="7" ry="11" fill="none" stroke="#fff" stroke-width="3"/>
<ellipse cx="1545" cy="1045" rx="12" ry="22" transform="rotate(-15 1545 1045)" class="o"/>
<path d="M1548,750 L1562,748 L1598,870 L1578,955 L1572,880 L1585,870 Z" class="o"/>
</g>
</g>
<g transform="translate(0,1070) scale(0.29963)" stroke-width="6.34">
<g stroke-width="6.10">
<path d="M35,240 Q150,200 268,192 L440,500 L490,570 L485,590 L390,640 L382,625 L345,560 L320,505 Q260,460 160,440 Z" class="o"/>
<path d="M345,560 L440,500 M382,625 L480,572" class="p"/>
<path d="M455,340 L472,320 L490,318 Q485,335 505,340 L525,335 L640,390 L690,392 L695,402 L650,418 L600,426 Z" class="o"/>
<path d="M525,335 L520,372 M640,390 L600,426 M620,415 L680,398" class="p"/>
<line x1="692" y1="218" x2="742" y2="196" stroke="#111" stroke-width="28" stroke-linecap="round"/><line x1="692" y1="218" x2="742" y2="196" stroke="#fff" stroke-width="16.6525" stroke-linecap="round"/>
<line x1="742" y1="196" x2="852" y2="264" stroke="#111" stroke-width="28" stroke-linecap="round"/><line x1="742" y1="196" x2="852" y2="264" stroke="#fff" stroke-width="16.6525" stroke-linecap="round"/>
<ellipse cx="690" cy="220" rx="8" ry="13" transform="rotate(-20 690 220)" class="o"/>
<path d="M572,805 L600,805 L600,1068 Q586,1076 572,1068 Z" class="o"/>
<path d="M528,760 Q530,735 560,730 L610,732 Q640,740 640,765 L638,790 Q610,812 560,810 Q530,805 528,785 Z" class="o"/>
<path d="M528,762 Q560,785 640,765 M575,780 L575,808 M560,730 L572,745 L600,745 L612,735" class="p"/>
<path d="M208,838 Q232,822 256,838 L256,1155 Q232,1168 208,1155 Z" class="o"/>
<path d="M208,840 Q232,852 256,840" class="p"/>
<path d="M185,1250 Q200,1235 230,1232 L590,1178 Q620,1180 622,1200 L620,1255 L600,1265 L260,1330 Q190,1335 185,1310 Z" class="o"/>
<path d="M185,1262 Q200,1280 250,1275 L600,1215 Q620,1205 620,1195" class="p"/>
<path d="M315,1232 L495,1203 Q510,1205 500,1215 L325,1245 Q305,1242 315,1232 Z" class="o"/>
<ellipse cx="232" cy="1250" rx="16" ry="9" transform="rotate(0 232 1250)" class="o"/>
<ellipse cx="590" cy="1190" rx="10" ry="6" transform="rotate(0 590 1190)" class="o"/>
<path d="M245,1330 L245,1295 Q258,1280 270,1295 L270,1325 Z" class="o"/>
<ellipse cx="258" cy="1300" rx="6" ry="8" transform="rotate(0 258 1300)" class="o"/>
<ellipse cx="585" cy="1372" rx="58" ry="20" transform="rotate(0 585 1372)" class="o"/>
<ellipse cx="583" cy="1362" rx="28" ry="9" transform="rotate(0 583 1362)" class="o"/>
<ellipse cx="583" cy="1360" rx="12" ry="4" transform="rotate(0 583 1360)" class="d"/>
<line x1="586" y1="1432" x2="588" y2="1470" stroke="#111" stroke-width="12" stroke-linecap="round"/><line x1="586" y1="1432" x2="588" y2="1470" stroke="#fff" stroke-width="0.6525" stroke-linecap="round"/>
<ellipse cx="590" cy="1476" rx="14" ry="7" transform="rotate(0 590 1476)" class="d"/>
<path d="M325,1338 L345,1330 L352,1345 L375,1325 L385,1340 L365,1365 L370,1385 L352,1400 L338,1385 L345,1362 Z" class="o"/>
<path d="M340,1350 Q360,1345 368,1370" class="p"/>
</g>
</g>
<g transform="translate(620,900) scale(0.18850)" stroke-width="10.08">
<g stroke-width="9.76">
<line x1="180" y1="65" x2="225" y2="50" stroke="#111" stroke-width="17.16" stroke-linecap="round"/><line x1="180" y1="65" x2="225" y2="50" stroke="#111" stroke-width="22" stroke-dasharray="4.8 3.7"/>
<ellipse cx="238" cy="46" rx="14" ry="17" transform="rotate(0 238 46)" class="o"/>
<path d="M290,580 L340,560 L345,490 L480,425 L530,480 L890,305 L965,300 L968,330 L900,370 L860,415 L360,650 L345,620 L340,660 L320,665 L305,650 L305,610 Z" class="o"/>
<path d="M345,610 L870,385 M360,600 L860,400 M340,560 L350,610 M290,580 L305,590 L345,575" class="p"/>
<path d="M345,490 L480,425 L530,480 L890,305 L965,300" fill="none" stroke="#111" stroke-width="16"/>
<ellipse cx="450" cy="582" rx="10" ry="7" transform="rotate(0 450 582)" class="d"/>
<path d="M750,725 L782,725 L782,780 L750,780 Z" class="o"/>
<path d="M742,690 Q765,672 790,690 L790,722 Q765,735 742,722 Z" class="o"/>
<path d="M742,688 Q765,672 790,688 L790,700 Q765,710 742,700 Z" class="d"/>
<path d="M610,790 L642,790 L642,845 L610,845 Z" class="o"/>
<path d="M600,755 Q625,738 652,755 L652,788 Q625,800 600,788 Z" class="o"/>
<path d="M600,753 Q625,738 652,753 L652,765 Q625,775 600,765 Z" class="d"/>
<ellipse cx="765" cy="852" rx="26" ry="15" transform="rotate(0 765 852)" class="d"/>
<ellipse cx="620" cy="918" rx="26" ry="15" transform="rotate(0 620 918)" class="d"/>
<line x1="322" y1="890" x2="400" y2="928" stroke="#111" stroke-width="22" stroke-linecap="round"/><line x1="322" y1="890" x2="400" y2="928" stroke="#fff" stroke-width="3.963" stroke-linecap="round"/>
<ellipse cx="295" cy="880" rx="26" ry="50" transform="rotate(-15 295 880)" class="o"/>
<ellipse cx="300" cy="882" rx="18" ry="38" transform="rotate(-15 300 882)" class="o"/>
<ellipse cx="318" cy="888" rx="16" ry="20" transform="rotate(0 318 888)" class="o"/>
<line x1="445" y1="1080" x2="500" y2="1104" stroke="#111" stroke-width="26" stroke-linecap="round"/><line x1="445" y1="1080" x2="500" y2="1104" stroke="#fff" stroke-width="7.963" stroke-linecap="round"/>
<path d="M400,1065 Q410,1045 430,1050 L445,1070 L440,1095 L420,1100 Z" class="o"/>
<path d="M858,965 Q850,780 1050,705 Q1200,670 1340,690 M905,945 Q900,810 1060,745 Q1180,715 1285,728 M990,935 Q1040,840 1160,815 L1270,812" class="p"/>
<path d="M1275,732 L1860,465 L1855,440 L1888,452 L1890,650 L1270,938 Z" class="o"/>
<path d="M1275,732 L1270,938" stroke="#111" stroke-width="14" fill="none"/>
<path d="M1332,892 V840 M1348,885 V845 M1363,877 V825 M1379,870 V830 M1395,862 V784 M1410,855 V815 M1426,847 V795 M1442,840 V800 M1458,832 V780 M1473,825 V747 M1489,817 V765 M1505,810 V770 M1520,802 V750 M1536,795 V755 M1552,787 V709 M1567,780 V740 M1583,772 V720 M1599,765 V725 M1615,757 V705 M1630,750 V672 M1646,742 V690 M1662,735 V695 M1677,727 V675 M1693,720 V680 M1709,712 V634 M1724,705 V665 M1740,697 V645 M1756,690 V650 M1772,682 V630 M1787,675 V597 M1803,667 V615 M1819,660 V620 M1834,652 V600 M1850,645 V605" fill="none" stroke="#111" stroke-width="8" stroke-linecap="butt"/>
<ellipse cx="1412" cy="752" rx="11" ry="13" transform="rotate(0 1412 752)" class="d"/>
<ellipse cx="1568" cy="672" rx="15" ry="13" transform="rotate(0 1568 672)" class="d"/>
<ellipse cx="1722" cy="598" rx="15" ry="13" transform="rotate(0 1722 598)" class="d"/>
<path d="M1530,600 Q1555,575 1580,585" class="p"/>
<path d="M520,1215 L530,1130 L590,1100 L1000,935 L1080,940 L1200,965 L830,1160 L830,1172 L615,1255 Z" class="o"/>
<path d="M590,1100 L620,1125 L615,1255 M620,1125 L1010,960 L1200,965 M640,1140 L830,1060 M530,1130 L575,1150 L570,1230 M575,1150 L600,1140" class="p"/>
<path d="M640,1095 L990,950" fill="none" stroke="#111" stroke-width="14"/>
<path d="M570,1165 L600,1155 L600,1225 L575,1230 Z" class="d"/>
<path d="M740,1030 Q760,1010 780,1025 L782,1060 L742,1075 Z" class="o"/>
<path d="M690,1075 L720,1062 L722,1085 L692,1098 Z" class="d"/>
<ellipse cx="800" cy="1050" rx="8" ry="8" transform="rotate(0 800 1050)" class="d"/>
<ellipse cx="700" cy="1105" rx="8" ry="8" transform="rotate(0 700 1105)" class="d"/>
<path d="M1650,95 L1686,95 L1686,250 Q1668,262 1650,250 Z" class="o"/>
<path d="M1642,65 Q1668,48 1694,65 L1694,95 Q1668,108 1642,95 Z" class="o"/>
<path d="M1642,63 Q1668,48 1694,63 L1694,75 Q1668,85 1642,75 Z" class="d"/>
<path d="M1788,20 L1822,20 L1822,185 Q1805,196 1788,185 Z" class="o"/>
<path d="M1780,0 L1832,0 L1832,20 Q1805,32 1780,20 Z" class="d"/>
<ellipse cx="1815" cy="280" rx="26" ry="15" transform="rotate(0 1815 280)" class="d"/>
<ellipse cx="1672" cy="347" rx="26" ry="15" transform="rotate(0 1672 347)" class="d"/>
<ellipse cx="1805" cy="410" rx="30" ry="17" transform="rotate(0 1805 410)" class="d"/>
<ellipse cx="1660" cy="475" rx="32" ry="18" transform="rotate(0 1660 475)" class="d"/>
<path d="M1940,1052 L2005,1030 L2122,1085 L2122,1128 L2060,1138 L1940,1085 Z" class="o"/>
<path d="M1940,1052 L2060,1105 L2122,1090 M2060,1105 L2060,1138" class="p"/>
<path d="M1955,1065 L2040,1100 L2040,1112 L1955,1078 Z" class="d"/>
<line x1="1862" y1="915" x2="1918" y2="940" stroke="#111" stroke-width="22" stroke-linecap="round"/><line x1="1862" y1="915" x2="1918" y2="940" stroke="#fff" stroke-width="3.963" stroke-linecap="round"/>
<ellipse cx="1840" cy="900" rx="25" ry="46" transform="rotate(-15 1840 900)" class="o"/>
<ellipse cx="1845" cy="902" rx="16" ry="32" transform="rotate(-15 1845 902)" class="o"/>
<ellipse cx="1860" cy="910" rx="14" ry="18" transform="rotate(0 1860 910)" class="o"/>
</g>
</g>
<g transform="translate(1000,950) scale(0.18850)" stroke-width="10.08">
<g stroke-width="11.59">
<ellipse cx="1910" cy="1065" rx="28" ry="15" transform="rotate(0 1910 1065)" class="d"/>
<ellipse cx="1832" cy="1073" rx="26" ry="14" transform="rotate(0 1832 1073)" class="d"/>
<ellipse cx="1920" cy="1165" rx="22" ry="13" transform="rotate(0 1920 1165)" class="d"/>
<ellipse cx="1842" cy="1198" rx="22" ry="12" transform="rotate(0 1842 1198)" class="d"/>
<path d="M1822,1305 L1848,1305 L1848,1370 L1822,1370 Z" class="o"/>
<ellipse cx="1835" cy="1380" rx="24" ry="10" transform="rotate(0 1835 1380)" class="d"/>
<path d="M1907,1298 L1933,1298 L1933,1362 L1907,1362 Z" class="o"/>
<ellipse cx="1920" cy="1372" rx="24" ry="10" transform="rotate(0 1920 1372)" class="d"/>
<ellipse cx="515" cy="1318" rx="18" ry="20" transform="rotate(0 515 1318)" class="o"/>
<rect x="488" y="1415" width="45" height="78" rx="10" fill="#111"/>
<path d="M885,270 L955,238 L1075,290 L1075,318 L1020,342 L960,342 L885,300 Z" class="o"/>
<path d="M885,270 L960,312 L1075,290 M960,312 L960,342 M900,290 L950,315" class="p"/>
<path d="M915,275 L955,295 L955,310 L912,290 Z" class="d"/>
<path d="M962,190 L962,305 Q1018,335 1074,305 L1074,190 Z" class="o"/>
<ellipse cx="1018" cy="188" rx="56" ry="28" transform="rotate(0 1018 188)" class="o"/>
<ellipse cx="1018" cy="188" rx="40" ry="18" transform="rotate(0 1018 188)" class="o"/>
<path d="M5,700 L5,835 Q60,865 112,835 L112,700 Z" class="o"/>
<ellipse cx="58" cy="698" rx="54" ry="26" transform="rotate(0 58 698)" class="o"/>
<ellipse cx="58" cy="698" rx="38" ry="16" transform="rotate(0 58 698)" class="o"/>
<path d="M0,850 Q50,880 112,845" class="p"/>
<path d="M180,700 L260,650 L375,655 L330,880 L300,890 L165,800 Z" class="o"/>
<path d="M180,700 L300,745 L330,880 M300,745 L375,655" class="p"/>
<path d="M735,540 L745,478 L868,405 L1105,470 L1085,560 Z" class="o"/>
<path d="M745,478 L840,530 L1085,465 M840,530 L835,560" class="p"/>
<ellipse cx="885" cy="455" rx="22" ry="10" transform="rotate(0 885 455)" class="o"/>
<path d="M880,520 L1080,478 M900,540 L1085,500" class="p"/>
<path d="M1090,540 L1110,440 L1285,335 L1745,500 L1800,720 L1945,820 L1945,890 L1840,950 L1700,930 L1560,830 L1490,690 L1380,680 Z" class="o"/>
<path d="M1110,440 L1420,590 L1640,580 L1745,500 M1420,590 L1380,680 M1640,580 L1690,790 L1840,880 L1945,820 M1690,790 L1700,930 M1840,880 L1840,950 M1800,720 L1790,760 L1900,840" class="p"/>
<path d="M1150,455 L1470,535 M1790,760 L1700,790" class="p"/>
<path d="M1260,455 L1475,530 L1470,542 L1255,465 Z" class="d"/>
<path d="M1335,455 L1400,395 M1375,468 L1450,405 M1420,478 L1490,425 M1462,488 L1525,440 M1505,495 L1560,455 M1548,500 L1595,465 M1590,495 L1625,470" stroke="#111" stroke-width="26" stroke-dasharray="14 5" fill="none"/>
<ellipse cx="1555" cy="525" rx="72" ry="32" transform="rotate(0 1555 525)" class="d"/>
<ellipse cx="1560" cy="532" rx="35" ry="14" fill="#fff"/>
<ellipse cx="1290" cy="378" rx="10" ry="6" transform="rotate(0 1290 378)" class="d"/>
<ellipse cx="1178" cy="440" rx="10" ry="6" transform="rotate(0 1178 440)" class="d"/>
<ellipse cx="1855" cy="825" rx="18" ry="9" transform="rotate(0 1855 825)" class="o"/>
<ellipse cx="960" cy="880" rx="610" ry="290" fill="#fff" stroke="#111" stroke-width="8"/>
<path d="M955,1060 Q1300,1080 1480,900 Q1560,800 1480,740" fill="none" stroke="#111" stroke-width="64" stroke-dasharray="11 6"/>
<path d="M1180,1040 Q1350,1010 1470,880 Q1530,800 1470,745" fill="none" stroke="#111" stroke-width="40" stroke-dasharray="40 22"/>
<path d="M955,1035 Q1290,1050 1450,890 Q1530,800 1455,745" fill="none" stroke="#fff" stroke-width="20"/>
<ellipse cx="855" cy="815" rx="512" ry="262" fill="#fff" stroke="#111" stroke-width="16"/>
<ellipse cx="855" cy="815" rx="486" ry="242" fill="#fff" stroke="#111" stroke-width="14"/>
<ellipse cx="855" cy="818" rx="465" ry="228" fill="none" stroke="#111" stroke-width="6"/>
<g fill="none" stroke-linecap="butt">
<path d="M855,840 L745,598 M855,840 L1145,632 M855,840 L1345,812 M855,840 L1035,1035 M855,840 L475,1008 M855,840 L425,682" stroke="#111" stroke-width="66"/>
<path d="M855,840 L745,598 M855,840 L1145,632 M855,840 L1345,812 M855,840 L1035,1035 M855,840 L475,1008 M855,840 L425,682" stroke="#fff" stroke-width="46"/>
</g>
<ellipse cx="860" cy="835" rx="250" ry="120" fill="none" stroke="#111" stroke-width="11"/>
<ellipse cx="860" cy="835" rx="212" ry="98" fill="none" stroke="#111" stroke-width="11"/>
<g stroke="#111" stroke-width="9" fill="none">
<path d="M600,610 L610,650 L700,675 M880,690 L1000,690 L1010,640 M395,780 L500,790 M1250,790 L1240,770 M1150,960 L1130,1000 M790,985 L960,1000 M640,740 L690,700 L740,700 M560,790 L520,850 M1100,770 L1110,800 M1090,920 L1030,935 M640,900 L580,880"/>
</g>
<ellipse cx="588" cy="635" rx="18" ry="15" transform="rotate(0 588 635)" class="o"/>
<ellipse cx="855" cy="845" rx="82" ry="44" fill="#fff" stroke="#111" stroke-width="14"/>
<ellipse cx="855" cy="842" rx="55" ry="27" fill="#fff" stroke="#111" stroke-width="10"/>
<ellipse cx="855" cy="848" rx="38" ry="16" fill="none" stroke="#111" stroke-width="7"/>
<path d="M0,1085 L245,1025 L255,935 L400,855 L800,965 L840,1060 L860,1270 L975,1400 L965,1470 L860,1528 L700,1500 L640,1420 L640,1225 L290,1085 L235,1232 L130,1258 L0,1212 Z" class="o"/>
<path d="M255,935 L715,1110 L840,1060 M715,1110 L740,1330 L860,1440 L975,1400 M860,1440 L860,1528 M740,1330 L640,1420 M820,1300 L830,1340 L940,1410 M820,1300 L860,1270" class="p"/>
<path d="M235,1225 L280,1080 L640,1215 L650,1420" fill="none" stroke="#111" stroke-width="18"/>
<path d="M235,1225 L280,1080 L640,1215 L650,1420" fill="none" stroke="#fff" stroke-width="5"/>
<path d="M0,1040 L230,985 L255,935 M0,1060 L240,1005 M0,1000 L245,960" class="p"/>
<path d="M510,900 L760,975 L755,988 L505,912 Z" class="d"/>
<path d="M435,985 L480,945 M470,1000 L520,950 M508,1015 L560,960 M548,1030 L600,975 M590,1045 L640,992 M632,1060 L672,1015" stroke="#111" stroke-width="26" stroke-dasharray="14 5" fill="none"/>
<ellipse cx="728" cy="1008" rx="70" ry="32" transform="rotate(0 728 1008)" class="d"/>
<ellipse cx="733" cy="1015" rx="34" ry="14" fill="#fff"/>
<ellipse cx="350" cy="930" rx="9" ry="6" transform="rotate(0 350 930)" class="d"/>
<ellipse cx="462" cy="868" rx="9" ry="6" transform="rotate(0 462 868)" class="d"/>
<path d="M335,1080 L335,1035 Q355,1005 380,1030 L380,1095 Z" class="o"/>
<path d="M640,1185 L640,1140 Q660,1112 685,1135 L685,1200 Z" class="o"/>
<ellipse cx="885" cy="1395" rx="18" ry="9" transform="rotate(0 885 1395)" class="o"/>
</g>
</g>
<g transform="translate(880,1100) scale(0.24505)" stroke-width="7.75">
<g stroke-width="7.93">
<path d="M490,157 L430,135 L340,185 L315,265 L460,315 L490,322 M340,185 L440,215 L490,205 M440,215 L420,250 L320,262 M420,250 L490,232" class="p"/>
<ellipse cx="425" cy="182" rx="14" ry="8" transform="rotate(0 425 182)" class="o"/>
<ellipse cx="425" cy="412" rx="22" ry="11" transform="rotate(0 425 412)" class="d"/>
<ellipse cx="485" cy="383" rx="22" ry="11" transform="rotate(0 485 383)" class="d"/>
<ellipse cx="432" cy="510" rx="17" ry="9" transform="rotate(0 432 510)" class="d"/>
<ellipse cx="493" cy="483" rx="17" ry="9" transform="rotate(0 493 483)" class="d"/>
<path d="M418,590 L438,590 L438,640 L418,640 Z" class="o"/>
<ellipse cx="428" cy="647" rx="20" ry="9" transform="rotate(0 428 647)" class="d"/>
<path d="M485,585 L505,585 L505,632 L485,632 Z" class="o"/>
<ellipse cx="495" cy="640" rx="20" ry="9" transform="rotate(0 495 640)" class="d"/>
<ellipse cx="885" cy="645" rx="26" ry="13" transform="rotate(0 885 645)" class="d"/>
<path d="M870,702 Q885,694 900,702 L900,762 L870,762 Z" class="o"/>
<path d="M857,760 Q885,748 912,760 L912,790 Q885,804 857,790 Z" class="o"/>
<ellipse cx="1580" cy="545" rx="32" ry="11" transform="rotate(0 1580 545)" class="d"/>
<ellipse cx="1580" cy="685" rx="26" ry="20" transform="rotate(0 1580 685)" class="d"/>
<ellipse cx="1580" cy="680" rx="12" ry="6" fill="none" stroke="#fff" stroke-width="3"/>
</g>
</g>
<g transform="translate(1020,650) scale(0.18850)" stroke-width="10.08">
<g stroke-width="9.76">
<path d="M150,425 Q150,388 190,388 L240,406 L415,480 Q440,500 435,530 Q425,560 390,560 L165,475 Q148,455 150,425 Z" class="o"/>
<ellipse cx="400" cy="522" rx="30" ry="38" transform="rotate(-20 400 522)" class="o"/>
<ellipse cx="402" cy="522" rx="10" ry="13" transform="rotate(0 402 522)" class="o"/>
<path d="M135,195 L175,180 L232,196 L256,262 L242,302 L262,348 L266,388 L240,406 L215,385 L175,380 L185,330 L160,260 Z" class="o"/>
<path d="M175,180 L188,205 L232,196 M188,205 L215,300 L215,385 M215,300 L242,302 M222,345 L262,348" class="p"/>
<ellipse cx="435" cy="385" rx="42" ry="42" transform="rotate(0 435 385)" class="d"/>
<ellipse cx="440" cy="382" rx="20" ry="20" fill="none" stroke="#aaa" stroke-width="5"/>
<ellipse cx="645" cy="487" rx="42" ry="56" transform="rotate(-20 645 487)" class="o"/>
<ellipse cx="645" cy="487" rx="14" ry="20" transform="rotate(-20 645 487)" class="o"/>
<ellipse cx="550" cy="592" rx="40" ry="52" transform="rotate(-20 550 592)" class="o"/>
<ellipse cx="550" cy="592" rx="13" ry="18" transform="rotate(-20 550 592)" class="o"/>
<path d="M705,505 Q725,495 745,505 L790,525 L780,570 L715,545 Q695,530 705,505 Z" class="o"/>
<path d="M790,520 Q810,505 835,515 L1105,650 Q1130,680 1115,715 Q1095,745 1065,735 L785,590 Q770,560 790,520 Z" class="o"/>
<ellipse cx="1092" cy="692" rx="25" ry="38" transform="rotate(-20 1092 692)" class="o"/>
<path d="M1020,640 L1040,650 M1035,625 Q1050,622 1055,635" class="p"/>
<path d="M680,645 Q700,632 720,645 L905,730 Q920,750 910,770 Q895,785 875,778 L690,690 Q670,670 680,645 Z" class="o"/>
<path d="M830,700 Q815,725 835,760 M850,712 Q838,735 855,768" class="p"/>
<ellipse cx="895" cy="755" rx="12" ry="20" transform="rotate(-20 895 755)" class="o"/>
<ellipse cx="870" cy="735" rx="8" ry="6" transform="rotate(0 870 735)" class="d"/>
<path d="M1470,335 Q1500,305 1535,330 Q1555,360 1530,400 L1290,650 L1240,690 L1215,760 L1100,930 L1075,1000 L1070,1080 Q1050,1130 1010,1115 Q985,1090 1000,1050 L1020,900 L1090,830 L1185,700 L1200,620 L1250,560 Z" class="o"/>
<path d="M1385,460 L1490,350 Q1510,340 1515,360 L1400,485 Q1380,495 1375,480 Z" class="o"/>
<ellipse cx="1028" cy="1080" rx="15" ry="20" transform="rotate(0 1028 1080)" class="o"/>
<ellipse cx="903" cy="1143" rx="26" ry="28" transform="rotate(0 903 1143)" class="d"/>
<ellipse cx="903" cy="1141" rx="10" ry="11" fill="none" stroke="#fff" stroke-width="3"/>
<ellipse cx="758" cy="1207" rx="28" ry="38" transform="rotate(-20 758 1207)" class="o"/>
<ellipse cx="758" cy="1207" rx="10" ry="14" transform="rotate(-20 758 1207)" class="o"/>
<line x1="642" y1="1260" x2="678" y2="1244" stroke="#111" stroke-width="24" stroke-linecap="round"/><line x1="642" y1="1260" x2="678" y2="1244" stroke="#fff" stroke-width="5.963" stroke-linecap="round"/>
<ellipse cx="622" cy="1268" rx="16" ry="18" transform="rotate(0 622 1268)" class="d"/>
<path d="M1300,985 L1395,985 L1390,1205 L1298,1210 Z" class="o"/>
<path d="M1300,985 L1340,985 L1338,1208 L1298,1210 Z" class="d"/>
<path d="M1340,1000 L1338,1195" stroke="#111" stroke-width="30" stroke-dasharray="4 14" fill="none"/>
</g>
</g>
<g transform="translate(1290,730) scale(0.11782)" stroke-width="16.13">
<g stroke-width="14.64">
<path d="M790,320 L960,100 L1090,60 L1180,110 L1225,230 L1220,640 L1085,900 L1065,1040 L980,1072 L880,1020 L880,870 L730,790 L730,600 L790,480 Z" class="o"/>
<path d="M790,480 L1130,640 L1130,250 L1180,110 M1130,640 L1040,900 L980,940 L980,1072 M730,600 L1040,760 M880,870 L880,1020 M960,100 L1000,170 L1130,250 M1000,170 L870,330 L790,320 M1180,250 L1180,640 L1085,900" class="p"/>
<path d="M1190,250 L1190,630 L1060,890" fill="none" stroke="#111" stroke-width="22"/>
<path d="M1090,60 L1180,110 L1160,180 L1060,120 Z" class="d"/>
<path d="M1100,90 L1150,170 M1080,80 L1060,140" stroke="#fff" stroke-width="6"/>
<ellipse cx="965" cy="385" rx="100" ry="128" transform="rotate(-15 965 385)" class="o"/>
<ellipse cx="965" cy="385" rx="45" ry="62" transform="rotate(-15 965 385)" class="o"/>
<ellipse cx="1100" cy="280" rx="10" ry="14" transform="rotate(0 1100 280)" class="o"/>
<path d="M850,580 L940,560 L990,600 L985,640 L900,650 L850,620 Z" class="o"/>
<path d="M850,580 L900,610 L985,600 M900,610 L900,650" class="p"/>
<path d="M1030,620 L1030,680 L1075,690 M760,760 L880,700 L1040,760 M880,700 L880,740" class="p"/>
<path d="M985,935 L1060,905 L1065,1035 L990,1065 Z" class="d"/>
<path d="M1000,960 L1055,940 M1000,990 L1055,970 M1000,1020 L1055,1000" stroke="#fff" stroke-width="6"/>
<line x1="880" y1="790" x2="910" y2="805" stroke="#111" stroke-width="40" stroke-linecap="round"/><line x1="880" y1="790" x2="910" y2="805" stroke="#fff" stroke-width="11.1425" stroke-linecap="round"/>
<ellipse cx="912" cy="806" rx="14" ry="22" transform="rotate(0 912 806)" class="d"/>
<path d="M290,880 Q170,1080 205,1320 Q300,1440 470,1500 L600,1480 L420,900 Z" class="o"/>
<path d="M200,1300 L340,1390 M215,960 L370,1050 M290,880 L420,960" class="p"/>
<ellipse cx="610" cy="1160" rx="245" ry="330" transform="rotate(12 610 1160)" fill="#fff" stroke="#111" stroke-width="16"/>
<ellipse cx="620" cy="1160" rx="222" ry="305" transform="rotate(12 620 1160)" fill="none" stroke="#111" stroke-width="9"/>
<ellipse cx="600" cy="1150" rx="82" ry="108" transform="rotate(12 600 1150)" fill="#fff" stroke="#111" stroke-width="14"/>
<ellipse cx="612" cy="1150" rx="48" ry="68" transform="rotate(12 612 1150)" fill="#fff" stroke="#111" stroke-width="14"/>
<path d="M360,1060 Q330,1200 380,1400 M395,1020 Q365,1200 410,1380" class="p"/>
<ellipse cx="470" cy="1385" rx="40" ry="48" transform="rotate(0 470 1385)" class="d"/>
<ellipse cx="470" cy="1390" rx="16" ry="22" fill="#fff"/>
<ellipse cx="590" cy="1365" rx="38" ry="46" transform="rotate(0 590 1365)" class="d"/>
<ellipse cx="592" cy="1370" rx="14" ry="20" fill="#fff"/>
<ellipse cx="520" cy="1330" rx="20" ry="30" transform="rotate(0 520 1330)" class="d"/>
<path d="M300,670 L300,950 L410,1000 L520,1030 L690,940 L740,860 L715,800 L640,860 Z" class="o"/>
<path d="M300,950 L640,900 L640,860 M640,900 L690,940" class="p"/>
<path d="M400,965 L500,1025 L690,940" fill="none" stroke="#111" stroke-width="26" stroke-dasharray="10 4"/>
<ellipse cx="735" cy="880" rx="22" ry="30" transform="rotate(0 735 880)" class="d"/>
<g stroke-width="24.40">
<path d="M85,380 Q90,340 140,325 L220,320 L555,410 Q610,440 690,560 L715,595 L715,800 L690,850 L650,850 L650,640 L600,560 L350,450 L330,640 L300,670 L300,620 L160,440 Z" class="o"/>
</g>
<path d="M130,380 L340,440 M160,420 L330,600 M190,400 L350,560 M350,450 L350,640 L640,780 M350,640 L330,640 M440,470 L420,680 M650,640 L600,760 L420,680" class="p"/>
<ellipse cx="520" cy="575" rx="82" ry="108" transform="rotate(-20 520 575)" fill="#fff" stroke="#111" stroke-width="30"/>
<ellipse cx="525" cy="575" rx="38" ry="55" transform="rotate(-20 525 575)" fill="#fff" stroke="#111" stroke-width="12"/>
<ellipse cx="125" cy="395" rx="14" ry="18" transform="rotate(0 125 395)" class="o"/>
<path d="M420,690 L600,770 L600,800 L420,720 Z" class="d"/>
<path d="M1100,990 L1250,940 L1290,960 L1400,880 L1440,900 L1430,990 L1280,1080 L1150,1100 L1115,1070 Z" class="o"/>
<path d="M1100,990 L1130,1010 L1150,1100 M1130,1010 L1260,965" class="p"/>
<ellipse cx="1200" cy="1032" rx="32" ry="28" transform="rotate(0 1200 1032)" class="d"/>
<ellipse cx="1225" cy="1022" rx="14" ry="14" fill="none" stroke="#fff" stroke-width="5"/>
<ellipse cx="1410" cy="948" rx="28" ry="30" transform="rotate(0 1410 948)" class="d"/>
<ellipse cx="1170" cy="1060" rx="18" ry="18" transform="rotate(0 1170 1060)" class="d"/>
<line x1="1450" y1="1015" x2="1490" y2="1050" stroke="#111" stroke-width="36" stroke-linecap="round"/><line x1="1450" y1="1015" x2="1490" y2="1050" stroke="#fff" stroke-width="7.1425" stroke-linecap="round"/>
<ellipse cx="1500" cy="1062" rx="28" ry="26" transform="rotate(0 1500 1062)" class="d"/>
<line x1="1232" y1="1155" x2="1270" y2="1185" stroke="#111" stroke-width="30" stroke-linecap="round"/><line x1="1232" y1="1155" x2="1270" y2="1185" stroke="#fff" stroke-width="1.1425" stroke-linecap="round"/>
<ellipse cx="1285" cy="1198" rx="26" ry="22" transform="rotate(0 1285 1198)" class="d"/>
<ellipse cx="1900" cy="1232" rx="34" ry="26" transform="rotate(0 1900 1232)" class="d"/>
<line x1="1870" y1="1225" x2="1890" y2="1232" stroke="#111" stroke-width="20" stroke-linecap="round"/><line x1="1870" y1="1225" x2="1890" y2="1232" stroke="#fff" stroke-width="0.5" stroke-linecap="round"/>
<ellipse cx="1832" cy="1422" rx="30" ry="24" transform="rotate(0 1832 1422)" class="d"/>
<path d="M1600,1130 L1640,1100 L1720,1100 L1740,1200 L1770,1385 L1610,1400 L1610,1340 L1520,1352 L1510,1250 L1610,1240 Z" class="o"/>
<path d="M1610,1240 L1610,1340 M1640,1100 L1660,1385 M1520,1250 L1540,1270 L1545,1350" class="p"/>
<ellipse cx="1680" cy="1152" rx="40" ry="38" transform="rotate(0 1680 1152)" class="d"/>
<ellipse cx="1688" cy="1150" rx="16" ry="16" fill="none" stroke="#fff" stroke-width="5"/>
<ellipse cx="1738" cy="1272" rx="26" ry="28" transform="rotate(0 1738 1272)" class="d"/>
<ellipse cx="1568" cy="1302" rx="12" ry="14" transform="rotate(0 1568 1302)" class="o"/>
<path d="M1640,935 Q1640,895 1670,890 L1860,850 Q1895,860 1895,900 L1890,940 L1680,995 Q1645,990 1640,935 Z" class="o"/>
<ellipse cx="1665" cy="942" rx="20" ry="50" transform="rotate(-10 1665 942)" class="d"/>
<line x1="1895" y1="900" x2="2037" y2="925" stroke="#111" stroke-width="16"/>
<path d="M1350,150 Q1365,125 1390,130 L1500,80 L1525,130 L1400,185 Q1360,185 1350,150 Z" class="o"/>
<path d="M1490,50 Q1540,15 1580,40 Q1600,80 1570,115 L1525,135 Q1480,100 1490,50 Z" class="o"/>
<ellipse cx="1368" cy="158" rx="14" ry="22" transform="rotate(-20 1368 158)" class="o"/>
<ellipse cx="1265" cy="58" rx="42" ry="40" transform="rotate(0 1265 58)" class="d"/>
<ellipse cx="1268" cy="55" rx="16" ry="16" fill="none" stroke="#fff" stroke-width="5"/>
</g>
</g>
<g transform="translate(1400,630) scale(0.13221)" stroke-width="14.37">
<g stroke-width="13.42">
<path d="M345,760 Q365,740 390,745 L520,690 L545,735 L410,790 Q380,810 355,800 Q335,785 345,760 Z" class="o"/>
<ellipse cx="368" cy="775" rx="18" ry="28" transform="rotate(-20 368 775)" class="o"/>
<ellipse cx="395" cy="762" rx="14" ry="24" transform="rotate(-20 395 762)" class="o"/>
<path d="M490,590 L530,560 L565,580 L570,700 L545,735 L520,745 L500,700 Z" class="o"/>
<path d="M530,560 L535,680 L500,700 M535,680 L570,700" class="p"/>
<path d="M492,592 L528,566 L530,660 L497,680 Z" class="d"/>
<path d="M742,700 L1240,470 Q1295,468 1315,525 Q1320,560 1305,580 L810,805 Q762,805 742,760 Q735,725 742,700 Z" class="o"/>
<ellipse cx="775" cy="742" rx="38" ry="62" transform="rotate(-20 775 742)" class="o"/>
<g fill="none" stroke="#111" stroke-width="9">
<ellipse cx="1530" cy="440" rx="62" ry="95" transform="rotate(-20 1530 440)" fill="#fff"/>
<ellipse cx="1555" cy="427" rx="62" ry="95" transform="rotate(-20 1555 427)"/>
<ellipse cx="1580" cy="414" rx="62" ry="95" transform="rotate(-20 1580 414)"/>
<ellipse cx="1605" cy="401" rx="62" ry="95" transform="rotate(-20 1605 401)"/>
<ellipse cx="1630" cy="388" rx="62" ry="95" transform="rotate(-20 1630 388)"/>
<ellipse cx="1655" cy="375" rx="62" ry="95" transform="rotate(-20 1655 375)"/>
<ellipse cx="1680" cy="362" rx="62" ry="95" transform="rotate(-20 1680 362)"/>
<ellipse cx="1525" cy="442" rx="34" ry="58" transform="rotate(-20 1525 442)"/>
</g>
<path d="M1420,185 Q1440,172 1462,185 L1455,400 Q1460,470 1500,520 L1470,540 Q1415,480 1412,400 Z" class="o"/>
<path d="M1645,490 L1690,470 L1785,590 L1755,610 Z" class="o"/>
</g>
</g>
<g transform="translate(1400,860) scale(0.18850)" stroke-width="10.08">
<g stroke-width="9.76">
<path d="M760,245 L790,245 L790,345 Q775,352 760,345 Z" class="o"/>
<path d="M752,215 Q775,200 798,215 L798,245 Q775,255 752,245 Z" class="o"/>
<path d="M752,213 Q775,200 798,213 L798,225 Q775,235 752,225 Z" class="d"/>
<ellipse cx="780" cy="395" rx="30" ry="15" transform="rotate(0 780 395)" class="d"/>
<ellipse cx="785" cy="462" rx="32" ry="16" transform="rotate(0 785 462)" class="d"/>
<path d="M1303,355 L1340,355 L1340,455 Q1322,465 1303,455 Z" class="o"/>
<path d="M1285,320 L1300,302 L1340,300 L1358,318 L1355,345 L1320,360 L1288,345 Z" class="o"/>
<path d="M1285,320 L1320,332 L1358,318 M1320,332 L1320,360" class="p"/>
<path d="M1370,540 L1385,520 L1415,518 L1435,540 L1430,570 L1405,588 L1380,575 Z" class="o"/>
<ellipse cx="1402" cy="550" rx="14" ry="16" transform="rotate(0 1402 550)" class="o"/>
<path d="M1450,515 Q1460,500 1480,505 L1540,478 L1555,515 L1485,545 Q1455,545 1450,515 Z" class="o"/>
<path d="M1525,470 Q1555,445 1580,465 Q1590,495 1565,515 L1545,520 Q1520,500 1525,470 Z" class="o"/>
<ellipse cx="1462" cy="525" rx="10" ry="16" transform="rotate(-20 1462 525)" class="o"/>
<path d="M1450,240 L1540,195 L2122,455 L2122,525 L2040,548 L1450,275 Z" class="o"/>
<path d="M1450,275 L1452,240 M1530,240 L2060,480 L2122,465 M1530,240 L1520,265 L2040,500 L2060,480 M1600,240 L2122,475" class="p"/>
<ellipse cx="1615" cy="232" rx="22" ry="10" transform="rotate(0 1615 232)" class="o"/>
<ellipse cx="1530" cy="272" rx="22" ry="10" transform="rotate(0 1530 272)" class="o"/>
<ellipse cx="2025" cy="432" rx="22" ry="10" transform="rotate(0 2025 432)" class="o"/>
<ellipse cx="1935" cy="470" rx="22" ry="10" transform="rotate(0 1935 470)" class="o"/>
<path d="M1590,340 L1590,355 M1930,495 L1930,512 M2020,520 L2020,535 M1490,290 L1490,300" class="p"/>
<path d="M1520,95 L1542,95 L1542,150 L1520,150 Z" class="o"/>
<ellipse cx="1531" cy="75" rx="24" ry="16" transform="rotate(0 1531 75)" class="d"/>
<path d="M1610,50 L1632,50 L1632,108 L1610,108 Z" class="o"/>
<ellipse cx="1621" cy="32" rx="24" ry="16" transform="rotate(0 1621 32)" class="d"/>
<path d="M1930,285 L1952,285 L1952,340 L1930,340 Z" class="o"/>
<ellipse cx="1941" cy="268" rx="24" ry="16" transform="rotate(0 1941 268)" class="d"/>
<path d="M2018,240 L2040,240 L2040,300 L2018,300 Z" class="o"/>
<ellipse cx="2029" cy="225" rx="24" ry="16" transform="rotate(0 2029 225)" class="d"/>
<ellipse cx="210" cy="625" rx="32" ry="38" transform="rotate(-20 210 625)" class="o"/>
<ellipse cx="210" cy="625" rx="20" ry="25" transform="rotate(-20 210 625)" fill="#fff" stroke="#111" stroke-width="14"/>
<ellipse cx="130" cy="695" rx="32" ry="38" transform="rotate(-20 130 695)" class="o"/>
<ellipse cx="130" cy="695" rx="20" ry="25" transform="rotate(-20 130 695)" fill="#fff" stroke="#111" stroke-width="14"/>
<ellipse cx="318" cy="668" rx="28" ry="30" transform="rotate(0 318 668)" class="d"/>
<ellipse cx="243" cy="740" rx="26" ry="30" transform="rotate(0 243 740)" class="d"/>
<path d="M385,715 Q395,700 415,705 L500,735 L485,785 L400,752 Q380,740 385,715 Z" class="o"/>
<ellipse cx="505" cy="765" rx="32" ry="38" transform="rotate(-20 505 765)" class="d"/>
<ellipse cx="508" cy="765" rx="13" ry="16" fill="none" stroke="#fff" stroke-width="4"/>
<path d="M312,790 Q322,775 342,780 L428,810 L415,860 L328,828 Q308,815 312,790 Z" class="o"/>
<ellipse cx="432" cy="838" rx="32" ry="38" transform="rotate(-20 432 838)" class="d"/>
<ellipse cx="435" cy="838" rx="13" ry="16" fill="none" stroke="#fff" stroke-width="4"/>
<path d="M498,900 L520,880 L560,885 L572,920 L560,950 L525,955 L515,925 Z" class="o"/>
<ellipse cx="545" cy="918" rx="16" ry="24" transform="rotate(0 545 918)" class="o"/>
<ellipse cx="365" cy="990" rx="16" ry="18" transform="rotate(0 365 990)" class="d"/>
<line x1="385" y1="985" x2="425" y2="968" stroke="#111" stroke-width="22" stroke-linecap="round"/><line x1="385" y1="985" x2="425" y2="968" stroke="#fff" stroke-width="3.963" stroke-linecap="round"/>
<ellipse cx="455" cy="950" rx="20" ry="24" transform="rotate(0 455 950)" class="d"/>
<ellipse cx="552" cy="1078" rx="30" ry="38" transform="rotate(-20 552 1078)" class="d"/>
<ellipse cx="550" cy="1080" rx="12" ry="16" fill="none" stroke="#fff" stroke-width="4"/>
<path d="M580,1045 L650,1015 L662,1045 L592,1078 Z" class="o"/>
<path d="M685,1000 L700,975 L730,968 L750,990 L748,1020 L722,1040 L695,1030 Z" class="o"/>
<path d="M700,975 L715,1005 L695,1030 M715,1005 L748,1020" class="p"/>
<line x1="190" y1="25" x2="215" y2="45" stroke="#111" stroke-width="26" stroke-linecap="round"/><line x1="190" y1="25" x2="215" y2="45" stroke="#fff" stroke-width="7.963" stroke-linecap="round"/>
<ellipse cx="225" cy="52" rx="16" ry="14" transform="rotate(0 225 52)" class="d"/>
<ellipse cx="1400" cy="1000" rx="602" ry="325" fill="#fff" stroke="#111" stroke-width="10"/>
<ellipse cx="1400" cy="958" rx="600" ry="322" fill="#fff" stroke="#111" stroke-width="9"/>
<ellipse cx="1400" cy="958" rx="585" ry="308" fill="none" stroke="#111" stroke-width="6"/>
<path d="M1720,1040 L2070,1212 L2060,1372 L1905,1402 L1840,1372 L1830,1295 L1700,1240 L1730,1170 Z" class="o"/>
<path d="M2070,1212 L1920,1265 L1905,1402 M1920,1265 L1740,1165 M1830,1295 L1840,1190 M1790,1130 L1960,1215 L1940,1255 L1770,1165 Z" class="p"/>
<ellipse cx="1972" cy="1228" rx="14" ry="10" transform="rotate(0 1972 1228)" class="d"/>
<ellipse cx="1995" cy="1335" rx="12" ry="16" transform="rotate(0 1995 1335)" class="o"/>
<ellipse cx="1995" cy="1335" rx="5" ry="7" transform="rotate(0 1995 1335)" class="d"/>
<path d="M1180,845 L1290,800 L1900,1100 L1890,1135 L1810,1160 Z" class="o"/>
<path d="M1215,860 L1295,825 L1860,1105 M1230,880 L1820,1150 M1290,800 L1295,825 M1560,955 L1565,1040 L1470,990 M1200,850 L1310,905 L1310,935" class="p"/>
<path d="M1722,1040 L1790,1070 L1790,1125 L1725,1100 Z" class="o"/>
<path d="M1745,1050 L1745,1110" class="p"/>
<path d="M1340,880 L1375,870 L1380,950 L1345,960 Z" class="o"/>
<g fill="none" stroke="#111" stroke-width="19">
<path d="M1405,690 Q1760,740 1890,900 Q1920,960 1830,1025"/>
<path d="M1405,772 Q1640,810 1710,900 Q1740,950 1700,990"/>
<path d="M915,918 Q960,1080 1350,1140 Q1520,1150 1650,1115"/>
<path d="M1075,928 Q1150,1040 1420,1075 L1510,1072"/>
</g>
<g fill="none" stroke="#fff" stroke-width="4">
<path d="M1405,690 Q1760,740 1890,900 Q1920,960 1830,1025"/>
<path d="M1405,772 Q1640,810 1710,900 Q1740,950 1700,990"/>
<path d="M915,918 Q960,1080 1350,1140 Q1520,1150 1650,1115"/>
<path d="M1075,928 Q1150,1040 1420,1075 L1510,1072"/>
</g>
<path d="M1170,658 L1370,635 M1300,670 L1340,650 L1355,740 L1335,750 Z M825,888 L1050,885 L1355,740 M905,905 L990,918 M940,830 L1000,850" class="p"/>
<path d="M1110,1165 L1190,1180 M1180,1150 L1250,1165" class="p"/>
<path d="M720,780 L750,600 Q800,480 900,455 L960,450 L1065,520 Q1140,600 1160,690 L1120,760 L1000,800 L890,800 L840,770 L835,840 L775,895 L730,870 Z" class="o"/>
<path d="M840,770 Q850,560 960,450 M890,800 Q900,600 1010,490 M1000,800 Q1010,690 1090,650 M1030,760 Q1040,700 1100,680" class="p"/>
<path d="M840,770 Q850,560 960,450 M890,800 Q900,610 1020,500 Q1120,560 1160,690" fill="none" stroke="#111" stroke-width="14"/>
<path d="M750,600 Q790,560 800,700 M1040,500 L1060,540 L1065,520 M930,720 L965,745" class="p"/>
<path d="M755,705 Q775,690 800,705 L800,760 L755,760 Z" class="o"/>
<path d="M705,775 L735,760 L840,800 L830,830 L775,895 L730,870 Z" class="o"/>
<ellipse cx="762" cy="850" rx="10" ry="14" transform="rotate(0 762 850)" class="o"/>
<ellipse cx="720" cy="795" rx="10" ry="14" transform="rotate(0 720 795)" class="d"/>
</g>
</g>
<g transform="translate(1722,860) scale(0.18850)" stroke-width="10.08">
<g stroke-width="9.76">
<path d="M490,765 L514,765 L514,825 L490,825 Z" class="o"/>
<ellipse cx="502" cy="748" rx="24" ry="16" transform="rotate(0 502 748)" class="d"/>
<ellipse cx="517" cy="945" rx="28" ry="14" transform="rotate(0 517 945)" class="d"/>
<path d="M455,1010 L480,1000 L560,1010 L590,995 L640,1015 L640,1040 L600,1050 L560,1075 L500,1070 L465,1035 Z" class="o"/>
<ellipse cx="525" cy="1032" rx="30" ry="22" transform="rotate(0 525 1032)" class="o"/>
<ellipse cx="525" cy="1032" rx="14" ry="10" transform="rotate(0 525 1032)" class="d"/>
<ellipse cx="615" cy="1028" rx="22" ry="16" transform="rotate(0 615 1028)" class="d"/>
<path d="M480,1000 L490,1030 M560,1010 L565,1040" class="p"/>
</g>
</g>
<g transform="translate(1400,1120) scale(0.34025)" stroke-width="5.58">
<g stroke-width="5.49">
<ellipse cx="665" cy="-12" rx="17" ry="8" transform="rotate(0 665 -12)" class="d"/>
<ellipse cx="667" cy="55" rx="14" ry="7" transform="rotate(0 667 55)" class="d"/>
<path d="M657,85 L677,85 L677,140 L657,140 Z" class="o"/>
<ellipse cx="667" cy="150" rx="16" ry="9" transform="rotate(0 667 150)" class="d"/>
<path d="M1185,70 L1210,55 L1212,110 L1265,100 L1268,112 L1215,140 L1185,125 Z" class="o"/>
<path d="M1185,70 L1190,118 L1212,110 M1190,118 L1215,140" class="p"/>
<ellipse cx="1240" cy="108" rx="8" ry="4" transform="rotate(0 1240 108)" class="o"/>
<ellipse cx="1212" cy="127" rx="8" ry="4" transform="rotate(0 1212 127)" class="o"/>
<ellipse cx="1328" cy="172" rx="15" ry="8" transform="rotate(0 1328 172)" class="d"/>
<ellipse cx="1362" cy="152" rx="15" ry="8" transform="rotate(0 1362 152)" class="d"/>
<ellipse cx="1428" cy="237" rx="11" ry="6" transform="rotate(0 1428 237)" class="d"/>
<ellipse cx="1462" cy="217" rx="12" ry="7" transform="rotate(0 1462 217)" class="d"/>
<path d="M1443,280 L1458,280 L1458,315 L1443,315 Z" class="o"/>
<ellipse cx="1450" cy="320" rx="12" ry="6" transform="rotate(0 1450 320)" class="d"/>
<path d="M1480,258 L1494,258 L1494,292 L1480,292 Z" class="o"/>
<ellipse cx="1487" cy="297" rx="12" ry="6" transform="rotate(0 1487 297)" class="d"/>
</g>
</g>
<g transform="translate(0,0) scale(1.00000)" stroke-width="1.90">
<g stroke-width="2.20">
<ellipse cx="1253.5" cy="580.5" rx="4" ry="3.5" transform="rotate(0 1253.5 580.5)" class="d"/>
<line x1="1256" y1="579" x2="1262" y2="577" stroke="#111" stroke-width="3.5" stroke-linecap="round"/><line x1="1256" y1="579" x2="1262" y2="577" stroke="#fff" stroke-width="0.5" stroke-linecap="round"/>
</g>
</g>
<g transform="translate(1500,760) scale(0.09425)" stroke-width="20.16">
<g stroke-width="19.52">
<line x1="140" y1="810" x2="600" y2="855" stroke="#111" stroke-width="22"/>
<path d="M600,850 L650,935 L830,625 L760,510 Z" class="o"/>
<path d="M650,935 L830,625 L760,510" fill="none" stroke="#111" stroke-width="26"/>
<path d="M620,505 L640,500 L760,548 L750,580 L630,535 Z" class="o"/>
<path d="M560,610 L585,590 L715,640 L695,685 L570,640 Z" class="o"/>
<path d="M470,750 L490,735 L620,785 L605,815 L480,775 Z" class="o"/>
<line x1="600" y1="720" x2="740" y2="768" stroke="#111" stroke-width="24"/>
<line x1="700" y1="560" x2="730" y2="720" stroke="#111" stroke-width="18"/>
<path d="M800,560 Q900,470 1080,500 Q1180,545 1230,520 Q1245,490 1225,485 M1080,500 Q1150,490 1205,465" class="p"/>
</g>
</g>
<g transform="translate(130,470) scale(0.08507)" stroke-width="22.33">
<g stroke-width="26.84">
<path d="M490,185 L545,185 L620,240 L860,480 L1000,700 L1040,760 L1030,800 L960,1050 L880,1180 L760,1270 L680,1300 L640,1310 L600,1280 L560,1180 L480,1100 L340,960 L290,860 L250,830 L180,790 L145,740 L150,690 L200,650 L200,560 L185,470 L230,370 L290,340 L340,330 L400,240 Z" class="o"/>
<path d="M510,225 L610,290 L830,505 L965,720 L1000,770 M400,240 L470,260 L520,230 M470,260 L500,340 L540,400 L690,520 L790,640 L880,740 L960,790 L1030,800 M340,330 L330,460 M290,340 L230,470 L240,640 M230,370 L300,420" class="p"/>
<path d="M420,385 L500,335 M420,385 L560,560 L640,520 M560,560 L600,650 M640,520 L700,560 L800,690 L860,720" class="p"/>
<path d="M340,455 L540,640 M650,530 L610,640 M330,520 L470,650" fill="none" stroke="#111" stroke-width="34"/>
<path d="M300,560 Q280,760 420,980 M350,600 Q340,780 470,960 M960,790 L900,1000 M1000,800 L930,1060 L850,1160" class="p"/>
<ellipse cx="720" cy="925" rx="195" ry="265" transform="rotate(-25 720 925)" fill="#fff" stroke="#111" stroke-width="26"/>
<ellipse cx="725" cy="930" rx="150" ry="210" transform="rotate(-25 725 930)" fill="none" stroke="#111" stroke-width="20"/>
<ellipse cx="735" cy="935" rx="100" ry="145" transform="rotate(-25 735 935)" fill="none" stroke="#111" stroke-width="24"/>
<ellipse cx="745" cy="940" rx="52" ry="85" transform="rotate(-25 745 940)" fill="#fff" stroke="#111" stroke-width="20"/>
<ellipse cx="530" cy="730" rx="90" ry="115" transform="rotate(-25 530 730)" fill="#fff" stroke="#111" stroke-width="24"/>
<ellipse cx="560" cy="740" rx="60" ry="85" transform="rotate(-25 560 740)" fill="none" stroke="#111" stroke-width="20"/>
<ellipse cx="600" cy="760" rx="45" ry="70" transform="rotate(-25 600 760)" fill="none" stroke="#111" stroke-width="18"/>
<ellipse cx="200" cy="728" rx="42" ry="48" transform="rotate(0 200 728)" class="o"/>
<ellipse cx="215" cy="735" rx="22" ry="28" transform="rotate(0 215 735)" class="o"/>
<ellipse cx="890" cy="780" rx="28" ry="36" transform="rotate(0 890 780)" class="o"/>
<ellipse cx="640" cy="1250" rx="28" ry="22" transform="rotate(0 640 1250)" class="o"/>
<ellipse cx="470" cy="240" rx="20" ry="16" transform="rotate(0 470 240)" class="o"/>
<path d="M560,1180 L620,1120 M600,1280 L660,1200 M480,1100 L520,1040 M760,1270 L740,1200" class="p"/>
</g>
</g>
<g transform="translate(630,165) scale(0.09166)" stroke-width="20.73">
<g stroke-width="20.74">
<path d="M690,380 L1180,170 L1290,180 L1400,170 Q1560,150 1620,300 L1690,420 L1700,650 L1600,820 L1180,1050 L740,1400 L600,1000 Z" class="o"/>
<path d="M720,400 L1290,185 M750,440 L1390,205 M860,560 L1580,255 M1000,800 L1640,520 M1050,900 L1690,620 M1040,1000 L1200,920 L1230,890 L1700,650 M1200,920 L1180,1050 M1620,300 Q1580,500 1600,820" class="p"/>
<path d="M930,660 L1620,385 M965,725 L1625,430" fill="none" stroke="#111" stroke-width="22"/>
<ellipse cx="1500" cy="270" rx="108" ry="92" transform="rotate(25 1500 270)" fill="#fff" stroke="#111" stroke-width="30"/>
<path d="M1420,300 Q1480,240 1560,300 M1480,330 L1510,270" class="p"/>
<path d="M1590,540 L1660,520 L1700,560 L1700,650 L1640,680 Z" class="o"/>
<path d="M350,405 L530,325 L600,345 Q800,500 1000,780 L1050,900 L1040,1000 L960,1200 L740,1400 L600,1435 L125,880 L160,640 L320,480 Z" class="o"/>
<path d="M350,405 L400,450 L560,370 L600,345 M530,325 L560,370 M940,760 L975,745" class="p"/>
<path d="M125,880 L160,640 L320,480 L390,460 Q560,500 760,760 L850,960 L830,1100 L700,1330 L590,1435 Q400,1320 200,1020 Z" class="o"/>
<path d="M160,640 L200,660 L330,510 L320,480 M200,660 Q190,800 230,980 M590,1435 L570,1390 L690,1290 M570,1390 Q400,1280 230,980 M850,960 L810,950 M125,880 L165,900" class="p"/>
<ellipse cx="600" cy="905" rx="215" ry="395" transform="rotate(-16 600 905)" fill="#fff" stroke="#111" stroke-width="22"/>
<ellipse cx="620" cy="900" rx="195" ry="372" transform="rotate(-16 620 900)" fill="none" stroke="#111" stroke-width="14"/>
<path d="M400,720 L560,650 M420,780 L700,670 M470,960 L760,840 M480,1010 L790,880 M540,1100 L780,1000 M600,1180 L760,1110 M480,650 L520,690 L600,680 M410,1050 L470,1020" class="p"/>
<path d="M540,800 L680,745 M570,885 L725,825 M640,1040 L760,992" fill="none" stroke="#111" stroke-width="30"/>
<ellipse cx="390" cy="492" rx="14" ry="14" transform="rotate(0 390 492)" class="o"/>
<ellipse cx="810" cy="935" rx="12" ry="16" transform="rotate(0 810 935)" class="o"/>
<ellipse cx="585" cy="1375" rx="14" ry="12" transform="rotate(0 585 1375)" class="o"/>
<ellipse cx="165" cy="910" rx="10" ry="14" transform="rotate(0 165 910)" class="o"/>
</g>
</g>
<g transform="translate(810,110) scale(0.06215)" stroke-width="30.57">
<g stroke-width="31.72">
<path d="M620,175 Q400,230 250,400 Q160,560 190,700 L220,790 L300,790 L340,820 L350,900 L330,960 L360,1010 L450,1040 Q580,1110 620,1200 L600,1280 L720,1340 L850,1360 Q1050,1300 1200,1130 Q1330,960 1320,780 Q1290,520 1100,300 Q980,200 850,195 Z" class="o"/>
<path d="M620,175 Q400,230 250,400 Q160,560 190,700 L220,790 L300,790 L340,820 L350,900 L330,960 L360,1010 L450,1040 Q580,1110 620,1200 L600,1280 L720,1340 L850,1360" fill="none" stroke="#111" stroke-width="44" stroke-linejoin="round"/>
<path d="M880,225 Q1090,330 1210,560 Q1290,800 1190,1090 Q1110,1190 1020,1245" class="p"/>
<path d="M240,640 L470,555 M250,690 L480,600 M1035,625 L1240,560 M1040,670 L1245,600 M1040,940 L1250,845 M1045,985 L1245,890 M300,415 L620,262 M620,175 L640,270 M860,200 L700,280 M1100,300 L1000,360 M380,920 L560,840 M620,1200 L820,1110 M700,1230 L1000,1100 M820,1290 L1150,1150" class="p"/>
<ellipse cx="740" cy="745" rx="290" ry="470" transform="rotate(-18 740 745)" fill="#fff" stroke="#111" stroke-width="22"/>
<ellipse cx="775" cy="760" rx="240" ry="425" transform="rotate(-18 775 760)" fill="#111" stroke="#111" stroke-width="10"/>
<g stroke="#fff" stroke-width="11" fill="none">
<path d="M530,600 L770,360 M590,660 L860,370 M900,480 L950,400 M960,560 L980,510 M600,900 L740,700 M650,990 L760,810 M730,1060 L830,900 M800,1110 L900,950 M950,1060 L990,1000 M620,720 L560,640"/>
<path d="M790,760 Q830,870 920,900" />
<path d="M540,420 Q580,480 640,470"/>
</g>
<ellipse cx="905" cy="690" rx="38" ry="68" transform="rotate(-25 905 690)" fill="#fff" stroke="none"/>
</g>
</g>
<g transform="translate(1650,100) scale(0.12438)" stroke-width="15.28">
<g stroke-width="19.52">
<path d="M45,1340 L160,1480 L330,1370 L600,950 L700,900 L1230,560 L1400,370 L1520,130 L1490,95 L1440,75 L1360,100 L1100,220 L780,360 L640,440 L580,500 L290,930 L300,960 L150,1210 L100,1230 Z" class="o"/>
<path d="M640,440 Q700,430 725,500 L400,1000 L300,960 M725,500 L860,390 L1490,140 M780,360 Q840,360 860,390" class="p"/>
<path d="M100,1230 L150,1240 L80,1370 M400,1000 L200,1380 L160,1480 M460,960 L250,1330 M520,870 L330,1370" class="p"/>
<path d="M860,330 L900,385 M960,290 L1000,345 M1060,245 L1100,300 M1165,200 L1205,255 M1275,150 L1320,205 M1385,105 L1430,160" fill="none" stroke="#111" stroke-width="26"/>
<path d="M745,490 L1250,265 L1300,295 L1245,335 L770,545" fill="none" stroke="#111" stroke-width="30" stroke-linejoin="round"/>
<path d="M790,600 Q860,590 900,560 L1100,450 L1290,340 M900,560 L1000,660 M700,780 L1240,520 L1400,370 M660,830 L1000,660 L1230,560 M725,500 L640,760 L600,950 M700,900 L660,830 L640,760 M1160,430 L1230,560 M1300,295 L1330,330 L1240,520 M1330,330 L1440,230 L1490,140 M1350,200 L1440,230" class="p"/>
<path d="M620,620 L690,650 M580,700 L660,730 M820,720 L880,790 L900,700 M1000,610 L1050,680 M1180,520 L1210,480" class="p"/>
<path d="M790,600 Q860,590 900,560 L1100,450 L1290,340" fill="none" stroke="#111" stroke-width="24"/>
<path d="M790,600 Q860,590 900,560 L1100,450 L1290,340" fill="none" stroke="#fff" stroke-width="8"/>
<ellipse cx="590" cy="815" rx="26" ry="26" transform="rotate(0 590 815)" class="d"/>
<ellipse cx="475" cy="990" rx="24" ry="24" transform="rotate(0 475 990)" class="d"/>
<ellipse cx="290" cy="1310" rx="28" ry="24" transform="rotate(0 290 1310)" class="d"/>
<ellipse cx="235" cy="1405" rx="26" ry="22" transform="rotate(0 235 1405)" class="d"/>
<ellipse cx="790" cy="530" rx="26" ry="18" transform="rotate(0 790 530)" class="d"/>
<ellipse cx="1035" cy="660" rx="22" ry="16" transform="rotate(0 1035 660)" class="d"/>
<path d="M500,1010 L330,1290" fill="none" stroke="#111" stroke-width="26" stroke-dasharray="30 14"/>
<path d="M985,840 L1060,790 L1520,610 L1580,660 L1560,720 L1080,960 L1010,900 Z" class="o"/>
<path d="M1060,790 L1110,840 L1080,960 M1110,840 L1575,660" class="p"/>
<path d="M1130,880 L1540,690" fill="none" stroke="#111" stroke-width="34"/>
<path d="M1160,868 L1230,835 M1400,755 L1520,698" fill="none" stroke="#fff" stroke-width="10"/>
<path d="M1250,815 L1390,752" fill="none" stroke="#fff" stroke-width="12" stroke-dasharray="10 12"/>
<ellipse cx="1065" cy="870" rx="30" ry="38" transform="rotate(0 1065 870)" class="o"/>
<ellipse cx="1075" cy="880" rx="18" ry="22" transform="rotate(0 1075 880)" class="d"/>
</g>
</g>
<g transform="translate(1740,200) scale(0.13089)" stroke-width="14.52">
<g stroke-width="17.08">
<path d="M800,365 Q840,430 850,505 M930,315 Q970,380 985,455 M1110,235 Q1160,300 1172,385 M1290,155 Q1325,215 1322,295" fill="none" stroke="#111" stroke-width="24"/>
<path d="M830,352 Q870,420 880,492 M1140,218 Q1190,290 1200,362 M1370,118 Q1395,160 1390,205 M960,300 Q1000,370 1010,440" class="p"/>
<path d="M790,560 L1100,420 L1330,300" fill="none" stroke="#111" stroke-width="26"/>
<path d="M830,545 L980,478 M1120,410 L1190,372" fill="none" stroke="#fff" stroke-width="8"/>
<path d="M600,790 L780,645 L1100,465 L1265,372 M700,705 L760,785 M930,592 L980,692 M950,582 L1000,680 M1100,470 L1170,542 M660,850 L760,800 L1000,690 L1250,520 L1380,340" class="p"/>
<path d="M650,445 L690,475 L700,640 L760,600" class="p"/>
<ellipse cx="750" cy="562" rx="12" ry="14" transform="rotate(0 750 562)" class="d"/>
<ellipse cx="1335" cy="358" rx="16" ry="10" transform="rotate(0 1335 358)" class="d"/>
<ellipse cx="1015" cy="690" rx="16" ry="10" transform="rotate(0 1015 690)" class="d"/>
<path d="M545,930 Q560,880 620,870 L700,940 Q730,1000 700,1060 L620,1095 Q560,1080 545,1020 Z" class="o"/>
<path d="M620,870 Q670,930 640,1090" class="p"/>
<ellipse cx="600" cy="1040" rx="26" ry="40" transform="rotate(0 600 1040)" class="o"/>
<ellipse cx="352" cy="1085" rx="40" ry="52" transform="rotate(-20 352 1085)" fill="#fff" stroke="#111" stroke-width="26"/>
<ellipse cx="235" cy="1355" rx="36" ry="50" transform="rotate(-20 235 1355)" fill="#fff" stroke="#111" stroke-width="24"/>
<path d="M420,1050 L480,1025 L500,1070 L440,1095 Z" class="o"/>
<path d="M290,1320 L350,1290 L370,1350 L310,1380 Z" class="o"/>
</g>
</g>
<g transform="translate(1880,1140) scale(0.09818)" stroke-width="19.35">
<g stroke-width="21.96">
<line x1="545" y1="470" x2="820" y2="615" stroke="#111" stroke-width="84" stroke-linecap="round"/><line x1="545" y1="470" x2="820" y2="615" stroke="#fff" stroke-width="49.371" stroke-linecap="round"/>
<ellipse cx="835" cy="635" rx="38" ry="88" transform="rotate(-28 835 635)" class="o"/>
<path d="M800,700 Q800,590 930,535 L1010,530 L1480,800 Q1540,900 1480,1020 Q1400,1130 1290,1112 L830,840 Q795,790 800,700 Z" class="o"/>
<path d="M930,535 Q840,600 850,800" class="p"/>
<path d="M990,588 L1030,560 L1350,742 L1330,792 Z" class="o"/>
<path d="M880,700 L900,690 L1230,890 L1200,1000 L860,800 Z" class="o"/>
<ellipse cx="1388" cy="962" rx="105" ry="165" transform="rotate(25 1388 962)" fill="#fff" stroke="#111" stroke-width="30"/>
<ellipse cx="1395" cy="968" rx="72" ry="125" transform="rotate(25 1395 968)" fill="#fff" stroke="#111" stroke-width="16"/>
</g>
</g>
<g opacity="0.999">
<g transform="translate(180,200) scale(0.25000)" stroke-width="7.60">
<text transform="translate(1537,92) scale(2.640,4.000)" class="n">87</text>
<text transform="translate(1537,232) scale(2.640,4.000)" class="n">84</text>
<text transform="translate(1383,320) scale(2.640,4.000)" class="n">83</text>
<text transform="translate(1167,432) scale(2.640,4.000)" class="n">82</text>
<text transform="translate(440,545) scale(2.640,4.000)" class="n">80</text>
<text transform="translate(297,655) scale(2.640,4.000)" class="n">79</text>
<text transform="translate(857,668) scale(2.640,4.000)" class="n">81</text>
<text transform="translate(55,820) scale(2.640,4.000)" class="n">78</text>
<polyline points="1612 45 1840 22" class="l" stroke-width="7.20"/>
<polyline points="1612 228 1785 290" class="l" stroke-width="7.20"/>
<polyline points="1455 300 1690 362" class="l" stroke-width="7.20"/>
<polyline points="1240 435 1390 515" class="l" stroke-width="7.20"/>
<polyline points="515 545 610 610" class="l" stroke-width="7.20"/>
<polyline points="365 655 660 835" class="l" stroke-width="7.20"/>
<polyline points="925 665 1010 710" class="l" stroke-width="7.20"/>
<polyline points="125 822 395 975" class="l" stroke-width="7.20"/>
<polyline points="0 990 165 1090" class="l" stroke-width="7.20"/>
<polyline points="410 1092 640 965" class="l" stroke-width="7.20"/>
<polyline points="905 825 985 783" class="l" stroke-width="7.20"/>
<polyline points="1080 722 1150 685" class="l" stroke-width="7.20"/>
<polyline points="1575 448 1690 385" class="l" stroke-width="7.20"/>
<polyline points="1745 355 1778 338" class="l" stroke-width="7.20"/>
<polyline points="1835 307 1858 296" class="l" stroke-width="7.20"/>
<polyline points="205 1205 300 1155" class="l" stroke-width="7.20"/>
<polyline points="1500 1528 2080 1205" class="l" stroke-width="7.20"/>
<polyline points="410 1092 470 1058" class="l" stroke-width="7.20"/>
</g>
<g transform="translate(530,0) scale(0.25000)" stroke-width="7.60">
<text transform="translate(1140,172) scale(2.640,4.000)" class="n">92</text>
<text transform="translate(1040,238) scale(2.640,4.000)" class="n">91</text>
<text transform="translate(912,288) scale(2.640,4.000)" class="n">90</text>
<text transform="translate(765,358) scale(2.640,4.000)" class="n">89</text>
<text transform="translate(598,435) scale(2.640,4.000)" class="n">88</text>
<text transform="translate(470,492) scale(2.640,4.000)" class="n">13</text>
<text transform="translate(365,550) scale(2.640,4.000)" class="n">12</text>
<text transform="translate(137,580) scale(2.640,4.000)" class="n">85</text>
<text transform="translate(137,730) scale(2.640,4.000)" class="n">86</text>
<text transform="translate(1505,930) scale(2.640,4.000)" class="n">93</text>
<text transform="translate(1718,930) scale(2.640,4.000)" class="n">94</text>
<polyline points="1150 175 1180 225" class="l" stroke-width="7.20"/>
<polyline points="1050 240 1095 400" class="l" stroke-width="7.20"/>
<polyline points="920 290 1020 560" class="l" stroke-width="7.20"/>
<polyline points="775 360 870 720" class="l" stroke-width="7.20"/>
<polyline points="645 435 755 525" class="l" stroke-width="7.20"/>
<polyline points="520 492 630 585" class="l" stroke-width="7.20"/>
<polyline points="440 552 550 625" class="l" stroke-width="7.20"/>
<polyline points="212 560 300 572" class="l" stroke-width="7.20"/>
<polyline points="212 692 335 692" class="l" stroke-width="7.20"/>
<polyline points="1500 890 1365 750" class="l" stroke-width="7.20"/>
<polyline points="1718 885 1560 615" class="l" stroke-width="7.20"/>
<polyline points="1000 790 1200 680" class="l" stroke-width="7.20"/>
<polyline points="1440 565 1520 518" class="l" stroke-width="7.20"/>
<polyline points="1620 458 2035 232" class="l" stroke-width="7.20"/>
<polyline points="1845 1365 2120 1215" class="l" stroke-width="7.20"/>
<polyline points="1650 1470 1745 1420" class="l" stroke-width="7.20"/>
<polyline points="312 570 336 582" class="l" stroke-width="7.20"/>
<polyline points="425 1115 455 1100" class="l" stroke-width="7.20"/>
</g>
<g transform="translate(0,382) scale(0.25000)" stroke-width="7.60">
<text transform="translate(335,305) scale(2.640,4.000)" class="n">76</text>
<text transform="translate(570,210) scale(2.640,4.000)" class="n">77</text>
<polyline points="400 308 630 462" class="l" stroke-width="7.20"/>
<polyline points="635 212 722 263" class="l" stroke-width="7.20"/>
<polyline points="610 650 415 760 700 948" class="l" stroke-width="7.20"/>
<polyline points="795 1015 890 1072" class="l" stroke-width="7.20"/>
<polyline points="980 1130 1270 1320 1930 960" class="l" stroke-width="7.20"/>
<polyline points="2025 905 2120 850" class="l" stroke-width="7.20"/>
</g>
<g transform="translate(1130,320) scale(0.18325)" stroke-width="10.37">
<text transform="translate(-280,341) scale(3.602,5.457)" class="n">72</text>
<text transform="translate(1660,130) scale(3.602,5.457)" class="n">43</text>
<text transform="translate(1660,345) scale(3.602,5.457)" class="n">75</text>
<text transform="translate(1660,585) scale(3.602,5.457)" class="n">74</text>
<polyline points="-177 348 440 735" class="l" stroke-width="9.82"/>
<polyline points="1655 85 1470 160" class="l" stroke-width="9.82"/>
<polyline points="1655 295 1470 315" class="l" stroke-width="9.82"/>
<polyline points="1655 530 1470 595" class="l" stroke-width="9.82"/>
<polyline points="905 125 1295 375 985 545" class="l" stroke-width="9.82"/>
<polyline points="720 0 785 40" class="l" stroke-width="9.82"/>
<polyline points="70 1035 200 980" class="l" stroke-width="9.82"/>
<polyline points="625 745 760 680" class="l" stroke-width="9.82"/>
<polyline points="365 885 500 815" class="l" stroke-width="9.82"/>
</g>
<g transform="translate(1530,0) scale(0.18850)" stroke-width="10.08">
<text transform="translate(605,235) scale(3.501,5.305)" class="n">95</text>
<text transform="translate(900,235) scale(3.501,5.305)" class="n">96</text>
<text transform="translate(1188,235) scale(3.501,5.305)" class="n">97</text>
<text transform="translate(1570,235) scale(3.501,5.305)" class="n">98</text>
<text transform="translate(1980,235) scale(3.501,5.305)" class="n">99</text>
<text transform="translate(1280,1370) scale(3.501,5.305)" class="n">100</text>
<polyline points="605 185 440 465" class="l" stroke-width="9.55"/>
<polyline points="895 185 615 580" class="l" stroke-width="9.55"/>
<polyline points="1185 185 985 620" class="l" stroke-width="9.55"/>
<polyline points="1565 185 1455 690" class="l" stroke-width="9.55"/>
<polyline points="1975 185 1840 790" class="l" stroke-width="9.55"/>
<polyline points="1320 1260 1440 1120" class="l" stroke-width="9.55"/>
</g>
<g transform="translate(1700,130) scale(0.19897)" stroke-width="9.55">
<text transform="translate(1325,360) scale(3.317,5.026)" class="n">105</text>
<text transform="translate(1878,410) scale(3.317,5.026)" class="n">107</text>
<text transform="translate(1878,645) scale(3.317,5.026)" class="n">107</text>
<text transform="translate(1085,1305) scale(3.317,5.026)" class="n">106</text>
<text transform="translate(1515,1305) scale(3.317,5.026)" class="n">12</text>
<text transform="translate(1740,1305) scale(3.317,5.026)" class="n">13</text>
<text transform="translate(1975,1305) scale(3.317,5.026)" class="n">31</text>
<text transform="translate(30,805) scale(3.317,5.026)" class="n">102</text>
<text transform="translate(258,805) scale(3.317,5.026)" class="n">101</text>
<text transform="translate(272,995) scale(3.317,5.026)" class="n">94</text>
<text transform="translate(30,1425) scale(3.317,5.026)" class="n">103</text>
<polyline points="1315 315 1135 430" class="l" stroke-width="9.05"/>
<polyline points="1870 365 1715 580" class="l" stroke-width="9.05"/>
<polyline points="1870 600 1770 690" class="l" stroke-width="9.05"/>
<polyline points="1075 1265 900 1320" class="l" stroke-width="9.05"/>
<polyline points="1505 1260 1400 1000" class="l" stroke-width="9.05"/>
<polyline points="1730 1260 1555 935" class="l" stroke-width="9.05"/>
<polyline points="1970 1260 1835 860" class="l" stroke-width="9.05"/>
<polyline points="25 760 0 780" class="l" stroke-width="9.05"/>
<polyline points="250 760 140 905" class="l" stroke-width="9.05"/>
<polyline points="265 955 200 1005" class="l" stroke-width="9.05"/>
<polyline points="25 1385 0 1392" class="l" stroke-width="9.05"/>
</g>
<g transform="translate(1480,250) scale(0.17671)" stroke-width="10.75">
<text transform="translate(438,812) scale(3.735,5.659)" class="n">22</text>
<text transform="translate(1280,1285) scale(3.735,5.659)" class="n">104</text>
<polyline points="545 780 680 812" class="l" stroke-width="10.19"/>
<polyline points="1245 199 1215 225" class="l" stroke-width="10.19"/>
<polyline points="1245 888 840 1000" class="l" stroke-width="10.19"/>
<polyline points="1270 1235 610 1350" class="l" stroke-width="10.19"/>
</g>
<g transform="translate(1250,430) scale(0.18850)" stroke-width="10.08">
<text transform="translate(735,345) scale(3.501,5.305)" class="n">118</text>
<text transform="translate(1012,345) scale(3.501,5.305)" class="n">119</text>
<text transform="translate(1305,345) scale(3.501,5.305)" class="n">120</text>
<text transform="translate(805,862) scale(3.501,5.305)" class="n">94</text>
<text transform="translate(530,1180) scale(3.501,5.305)" class="n">111</text>
<text transform="translate(805,1180) scale(3.501,5.305)" class="n">112</text>
<text transform="translate(1480,1090) scale(3.501,5.305)" class="n">8</text>
<text transform="translate(1740,1090) scale(3.501,5.305)" class="n">121</text>
<text transform="translate(912,1425) scale(3.501,5.305)" class="n">44</text>
<text transform="translate(762,1500) scale(3.501,5.305)" class="n">43</text>
<polyline points="785 350 1005 570" class="l" stroke-width="9.55"/>
<polyline points="1030 350 1150 580" class="l" stroke-width="9.55"/>
<polyline points="1297 295 1292 625" class="l" stroke-width="9.55"/>
<polyline points="795 810 730 590" class="l" stroke-width="9.55"/>
<polyline points="520 1130 310 935" class="l" stroke-width="9.55"/>
<polyline points="795 1130 660 890" class="l" stroke-width="9.55"/>
<polyline points="1478 1040 1365 680" class="l" stroke-width="9.55"/>
<polyline points="1735 1040 1500 700" class="l" stroke-width="9.55"/>
<polyline points="985 1435 1110 1528" class="l" stroke-width="9.55"/>
</g>
<g transform="translate(840,430) scale(0.18850)" stroke-width="10.08">
<text transform="translate(858,65) scale(3.501,5.305)" class="n">70</text>
<text transform="translate(702,178) scale(3.501,5.305)" class="n">69</text>
<text transform="translate(512,298) scale(3.501,5.305)" class="n">68</text>
<text transform="translate(260,462) scale(3.501,5.305)" class="n">66</text>
<text transform="translate(10,628) scale(3.501,5.305)" class="n">65</text>
<text transform="translate(1165,1140) scale(3.501,5.305)" class="n">67</text>
<text transform="translate(2048,1215) scale(3.501,5.305)" class="n">73</text>
<text transform="translate(1625,1395) scale(3.501,5.305)" class="n">40</text>
<text transform="translate(1785,1528) scale(3.501,5.305)" class="n">41</text>
<polyline points="935 70 1420 480" class="l" stroke-width="9.55"/>
<polyline points="775 180 1225 540" class="l" stroke-width="9.55"/>
<polyline points="590 300 1075 645" class="l" stroke-width="9.55"/>
<polyline points="335 465 800 815" class="l" stroke-width="9.55"/>
<polyline points="85 630 500 920" class="l" stroke-width="9.55"/>
<polyline points="1110 0 1570 410" class="l" stroke-width="9.55"/>
<polyline points="1150 1030 940 905" class="l" stroke-width="9.55"/>
<polyline points="1160 1090 960 920" class="l" stroke-width="9.55"/>
<polyline points="2045 1170 1860 1015" class="l" stroke-width="9.55"/>
<polyline points="1620 1350 1400 1510" class="l" stroke-width="9.55"/>
<polyline points="1780 1490 1720 1528" class="l" stroke-width="9.55"/>
<polyline points="0 870 250 1085" class="l" stroke-width="9.55"/>
<polyline points="20 1320 90 1280" class="l" stroke-width="9.55"/>
<polyline points="185 1230 240 1195" class="l" stroke-width="9.55"/>
<polyline points="365 1130 470 1070" class="l" stroke-width="9.55"/>
<polyline points="990 770 1075 720" class="l" stroke-width="9.55"/>
<polyline points="1175 665 1225 640" class="l" stroke-width="9.55"/>
<polyline points="1360 560 1420 530" class="l" stroke-width="9.55"/>
<polyline points="1470 500 1545 460" class="l" stroke-width="9.55"/>
<polyline points="1620 420 1740 360" class="l" stroke-width="9.55"/>
<polyline points="1075 720 1120 700" class="l" stroke-width="9.55"/>
<polyline points="540 1030 610 995" class="l" stroke-width="9.55"/>
<polyline points="20 1320 90 1280" class="l" stroke-width="9.55"/>
</g>
<g transform="translate(480,560) scale(0.18850)" stroke-width="10.08">
<text transform="translate(1725,65) scale(3.501,5.305)" class="n">64</text>
<text transform="translate(1555,178) scale(3.501,5.305)" class="n">63</text>
<text transform="translate(1375,320) scale(3.501,5.305)" class="n">12</text>
<text transform="translate(1258,402) scale(3.501,5.305)" class="n">13</text>
<text transform="translate(1115,492) scale(3.501,5.305)" class="n">62</text>
<text transform="translate(992,575) scale(3.501,5.305)" class="n">61</text>
<text transform="translate(802,708) scale(3.501,5.305)" class="n">60</text>
<text transform="translate(565,888) scale(3.501,5.305)" class="n">59</text>
<text transform="translate(272,1062) scale(3.501,5.305)" class="n">57</text>
<polyline points="1790 75 2122 365" class="l" stroke-width="9.55"/>
<polyline points="1620 180 1940 465" class="l" stroke-width="9.55"/>
<polyline points="1440 320 1815 600" class="l" stroke-width="9.55"/>
<polyline points="1320 400 1710 665" class="l" stroke-width="9.55"/>
<polyline points="1190 490 1590 730" class="l" stroke-width="9.55"/>
<polyline points="1065 575 1450 835" class="l" stroke-width="9.55"/>
<polyline points="870 705 1215 945" class="l" stroke-width="9.55"/>
<polyline points="640 890 1010 1110" class="l" stroke-width="9.55"/>
<polyline points="345 1065 500 1150" class="l" stroke-width="9.55"/>
<polyline points="905 1210 1000 1160" class="l" stroke-width="9.55"/>
<polyline points="1110 1090 1200 1040" class="l" stroke-width="9.55"/>
<polyline points="1350 955 1400 925" class="l" stroke-width="9.55"/>
<polyline points="1550 840 1900 640" class="l" stroke-width="9.55"/>
<polyline points="1250 1015 1400 925" class="l" stroke-width="9.55"/>
</g>
<g transform="translate(380,760) scale(0.18850)" stroke-width="10.08">
<text transform="translate(345,335) scale(3.501,5.305)" class="n">56</text>
<text transform="translate(210,438) scale(3.501,5.305)" class="n">55</text>
<text transform="translate(70,522) scale(3.501,5.305)" class="n">53</text>
<text transform="translate(805,1250) scale(3.501,5.305)" class="n">54</text>
<text transform="translate(1715,795) scale(3.501,5.305)" class="n">58</text>
<text transform="translate(1340,1495) scale(3.501,5.305)" class="n">1</text>
<polyline points="430 340 845 620" class="l" stroke-width="9.55"/>
<polyline points="290 440 680 700" class="l" stroke-width="9.55"/>
<polyline points="150 525 520 730" class="l" stroke-width="9.55"/>
<polyline points="0 615 225 790" class="l" stroke-width="9.55"/>
<polyline points="795 1195 650 960" class="l" stroke-width="9.55"/>
<polyline points="1705 740 1500 555" class="l" stroke-width="9.55"/>
<polyline points="1385 1420 1590 1350" class="l" stroke-width="9.55"/>
<polyline points="0 821 195 950" class="l" stroke-width="9.55"/>
<polyline points="0 1120 345 930" class="l" stroke-width="9.55"/>
<polyline points="740 690 830 645" class="l" stroke-width="9.55"/>
<polyline points="870 620 910 600" class="l" stroke-width="9.55"/>
<polyline points="385 900 600 775" class="l" stroke-width="9.55"/>
</g>
<g transform="translate(80,830) scale(0.18850)" stroke-width="10.08">
<text transform="translate(208,628) scale(3.501,5.305)" class="n">14</text>
<text transform="translate(332,552) scale(3.501,5.305)" class="n">34</text>
<text transform="translate(475,478) scale(3.501,5.305)" class="n">35</text>
<text transform="translate(822,730) scale(3.501,5.305)" class="n">48</text>
<text transform="translate(1072,552) scale(3.501,5.305)" class="n">49</text>
<text transform="translate(1222,455) scale(3.501,5.305)" class="n">50</text>
<text transform="translate(1372,345) scale(3.501,5.305)" class="n">51</text>
<text transform="translate(1522,248) scale(3.501,5.305)" class="n">52</text>
<polyline points="270 635 420 740" class="l" stroke-width="9.55"/>
<polyline points="415 550 560 640" class="l" stroke-width="9.55"/>
<polyline points="545 480 680 585" class="l" stroke-width="9.55"/>
<polyline points="890 735 1180 945" class="l" stroke-width="9.55"/>
<polyline points="1170 555 1400 670" class="l" stroke-width="9.55"/>
<polyline points="1320 440 1410 475" class="l" stroke-width="9.55"/>
<polyline points="1445 350 1595 453" class="l" stroke-width="9.55"/>
<polyline points="470 735 560 690" class="l" stroke-width="9.55"/>
<polyline points="610 660 680 620" class="l" stroke-width="9.55"/>
<polyline points="720 590 855 510 1230 800 1330 740" class="l" stroke-width="9.55"/>
<polyline points="1420 850 1760 640" class="l" stroke-width="9.55"/>
<polyline points="1850 590 1940 545" class="l" stroke-width="9.55"/>
</g>
<g transform="translate(0,1070) scale(0.29963)" stroke-width="6.34">
<text transform="translate(400,170) scale(2.203,3.337)" class="n">124</text>
<text transform="translate(548,170) scale(2.203,3.337)" class="n">123</text>
<text transform="translate(752,170) scale(2.203,3.337)" class="n">122</text>
<text transform="translate(790,552) scale(2.203,3.337)" class="n">125</text>
<text transform="translate(752,865) scale(2.203,3.337)" class="n">125−1</text>
<text transform="translate(752,1115) scale(2.203,3.337)" class="n">125−2</text>
<text transform="translate(752,1270) scale(2.203,3.337)" class="n">125−3</text>
<text transform="translate(752,1408) scale(2.203,3.337)" class="n">125−4</text>
<text transform="translate(25,1003) scale(2.203,3.337)" class="n">125−5</text>
<text transform="translate(25,1432) scale(2.203,3.337)" class="n">125−6</text>
<polyline points="392 140 298 325" class="l" stroke-width="6.01"/>
<polyline points="542 140 525 365" class="l" stroke-width="6.01"/>
<polyline points="748 140 745 200" class="l" stroke-width="6.01"/>
<polyline points="785 520 750 715" class="l" stroke-width="6.01"/>
<polyline points="750 830 600 900" class="l" stroke-width="6.01"/>
<polyline points="750 1085 620 1225" class="l" stroke-width="6.01"/>
<polyline points="750 1235 620 1355" class="l" stroke-width="6.01"/>
<polyline points="750 1375 600 1468" class="l" stroke-width="6.01"/>
<polyline points="95 1010 205 1055" class="l" stroke-width="6.01"/>
<polyline points="185 1385 330 1370" class="l" stroke-width="6.01"/>
<polyline points="0 47 1012 47 1012 1528" class="l" stroke-width="6.01"/>
<polyline points="0 703 940 703 940 1498 0 1498" class="l" stroke-width="6.01"/>
</g>
<g transform="translate(620,900) scale(0.18850)" stroke-width="10.08">
<text transform="translate(60,1035) scale(3.501,5.305)" class="n">2</text>
<text transform="translate(60,1245) scale(3.501,5.305)" class="n">3</text>
<text transform="translate(60,1525) scale(3.501,5.305)" class="n">6</text>
<text transform="translate(1115,378) scale(3.501,5.305)" class="n">4</text>
<text transform="translate(1115,568) scale(3.501,5.305)" class="n">5</text>
<text transform="translate(1475,1090) scale(3.501,5.305)" class="n">9</text>
<text transform="translate(1478,1310) scale(3.501,5.305)" class="n">10</text>
<text transform="translate(1478,1528) scale(3.501,5.305)" class="n">11</text>
<text transform="translate(2100,195) scale(3.501,5.305)" class="n">5</text>
<text transform="translate(2095,335) scale(3.501,5.305)" class="n">8</text>
<polyline points="105 970 265 915" class="l" stroke-width="9.55"/>
<polyline points="105 1185 400 1085" class="l" stroke-width="9.55"/>
<polyline points="105 1450 520 1215" class="l" stroke-width="9.55"/>
<polyline points="1110 325 790 680" class="l" stroke-width="9.55"/>
<polyline points="1110 500 785 840" class="l" stroke-width="9.55"/>
<polyline points="1525 1020 1815 930" class="l" stroke-width="9.55"/>
<polyline points="1570 1225 1940 1085" class="l" stroke-width="9.55"/>
<polyline points="1570 1455 1925 1390" class="l" stroke-width="9.55"/>
<polyline points="2045 0 1830 105" class="l" stroke-width="9.55"/>
<polyline points="2095 165 1840 270" class="l" stroke-width="9.55"/>
<polyline points="2090 285 1835 400" class="l" stroke-width="9.55"/>
</g>
<g transform="translate(1000,950) scale(0.18850)" stroke-width="10.08">
<text transform="translate(1258,185) scale(3.501,5.305)" class="n">10</text>
<text transform="translate(1908,468) scale(3.501,5.305)" class="n">19</text>
<text transform="translate(2030,590) scale(3.501,5.305)" class="n">28</text>
<text transform="translate(210,1458) scale(3.501,5.305)" class="n">15</text>
<polyline points="1248 140 1020 250" class="l" stroke-width="9.55"/>
<polyline points="2000 360 2122 295" class="l" stroke-width="9.55"/>
<polyline points="305 1375 500 1320" class="l" stroke-width="9.55"/>
<polyline points="1005 1125 1415 1385 1415 1528" class="l" stroke-width="9.55"/>
<polyline points="2122 905 1935 1050" class="l" stroke-width="9.55"/>
<polyline points="2122 1060 1945 1155" class="l" stroke-width="9.55"/>
<polyline points="2122 1245 1945 1320" class="l" stroke-width="9.55"/>
<polyline points="350 1528 480 1470" class="l" stroke-width="9.55"/>
</g>
<g transform="translate(880,1100) scale(0.24505)" stroke-width="7.75">
<text transform="translate(78,555) scale(2.693,4.081)" class="n">12</text>
<text transform="translate(78,695) scale(2.693,4.081)" class="n">13</text>
<text transform="translate(78,848) scale(2.693,4.081)" class="n">14</text>
<text transform="translate(650,655) scale(2.693,4.081)" class="n">16</text>
<text transform="translate(650,795) scale(2.693,4.081)" class="n">17</text>
<text transform="translate(650,935) scale(2.693,4.081)" class="n">18</text>
<text transform="translate(1725,655) scale(2.693,4.081)" class="n">19</text>
<text transform="translate(1725,795) scale(2.693,4.081)" class="n">20</text>
<polyline points="150 490 420 412" class="l" stroke-width="7.35"/>
<polyline points="150 625 430 512" class="l" stroke-width="7.35"/>
<polyline points="150 770 420 625" class="l" stroke-width="7.35"/>
<polyline points="725 580 865 518" class="l" stroke-width="7.35"/>
<polyline points="725 718 870 648" class="l" stroke-width="7.35"/>
<polyline points="725 855 865 775" class="l" stroke-width="7.35"/>
<polyline points="1720 610 1605 550" class="l" stroke-width="7.35"/>
<polyline points="1720 750 1600 690" class="l" stroke-width="7.35"/>
<polyline points="1578 563 1578 745" class="l" stroke-width="7.35"/>
</g>
<g transform="translate(1020,650) scale(0.18850)" stroke-width="10.08">
<text transform="translate(1050,498) scale(3.501,5.305)" class="n">42</text>
<text transform="translate(78,640) scale(3.501,5.305)" class="n">39</text>
<text transform="translate(285,790) scale(3.501,5.305)" class="n">38</text>
<text transform="translate(485,890) scale(3.501,5.305)" class="n">37</text>
<text transform="translate(845,950) scale(3.501,5.305)" class="n">36</text>
<text transform="translate(678,1025) scale(3.501,5.305)" class="n">35</text>
<text transform="translate(545,1090) scale(3.501,5.305)" class="n">34</text>
<text transform="translate(410,1183) scale(3.501,5.305)" class="n">14</text>
<text transform="translate(1150,1230) scale(3.501,5.305)" class="n">33</text>
<text transform="translate(1150,1450) scale(3.501,5.305)" class="n">32</text>
<text transform="translate(1920,1528) scale(3.501,5.305)" class="n">113</text>
<polyline points="765 361 672 438" class="l" stroke-width="9.55"/>
<polyline points="1045 455 915 555" class="l" stroke-width="9.55"/>
<polyline points="165 525 285 455" class="l" stroke-width="9.55"/>
<polyline points="380 690 510 630" class="l" stroke-width="9.55"/>
<polyline points="580 785 720 705" class="l" stroke-width="9.55"/>
<polyline points="935 950 1045 1015" class="l" stroke-width="9.55"/>
<polyline points="755 1025 890 1130" class="l" stroke-width="9.55"/>
<polyline points="620 1095 740 1190" class="l" stroke-width="9.55"/>
<polyline points="500 1185 615 1260" class="l" stroke-width="9.55"/>
<polyline points="1225 1130 1305 1070" class="l" stroke-width="9.55"/>
<polyline points="1240 1360 1615 1215" class="l" stroke-width="9.55"/>
<polyline points="1960 1400 2122 1160" class="l" stroke-width="9.55"/>
</g>
<g transform="translate(1290,730) scale(0.11782)" stroke-width="16.13">
<text transform="translate(1610,430) scale(5.602,8.488)" class="n">45</text>
<polyline points="1600 345 1440 160" class="l" stroke-width="15.28"/>
<polyline points="1103 1177 1150 1095" class="l" stroke-width="15.28"/>
<polyline points="1200 1528 1275 1200" class="l" stroke-width="15.28"/>
<polyline points="1590 1528 1700 1160" class="l" stroke-width="15.28"/>
<polyline points="1870 1528 1850 1440" class="l" stroke-width="15.28"/>
<polyline points="1945 590 1885 860" class="l" stroke-width="15.28"/>
</g>
<g transform="translate(1400,630) scale(0.13221)" stroke-width="14.37">
<text transform="translate(1215,1070) scale(4.992,7.564)" class="n">46</text>
<text transform="translate(1850,1070) scale(4.992,7.564)" class="n">47</text>
<text transform="translate(912,1350) scale(4.992,7.564)" class="n">117</text>
<polyline points="1215 985 1050 680" class="l" stroke-width="13.62"/>
<polyline points="1850 985 1660 505" class="l" stroke-width="13.62"/>
<polyline points="448 666 468 690" class="l" stroke-width="13.62"/>
<polyline points="60 640 265 785" class="l" stroke-width="13.62"/>
</g>
<g transform="translate(1400,860) scale(0.18850)" stroke-width="10.08">
<text transform="translate(152,410) scale(3.501,5.305)" class="n">114</text>
<text transform="translate(400,410) scale(3.501,5.305)" class="n">115</text>
<text transform="translate(595,410) scale(3.501,5.305)" class="n">116</text>
<text transform="translate(858,130) scale(3.501,5.305)" class="n">108</text>
<text transform="translate(905,272) scale(3.501,5.305)" class="n">5</text>
<text transform="translate(905,410) scale(3.501,5.305)" class="n">8</text>
<text transform="translate(1215,118) scale(3.501,5.305)" class="n">110</text>
<text transform="translate(428,695) scale(3.501,5.305)" class="n">30</text>
<text transform="translate(605,695) scale(3.501,5.305)" class="n">29</text>
<text transform="translate(35,1155) scale(3.501,5.305)" class="n">22</text>
<text transform="translate(150,1258) scale(3.501,5.305)" class="n">12</text>
<text transform="translate(325,1392) scale(3.501,5.305)" class="n">28</text>
<text transform="translate(5,1420) scale(3.501,5.305)" class="n">12</text>
<text transform="translate(655,1530) scale(3.501,5.305)" class="n">26</text>
<polyline points="585 265 590 335" class="l" stroke-width="9.55"/>
<polyline points="166 265 160 295" class="l" stroke-width="9.55"/>
<polyline points="410 265 405 300" class="l" stroke-width="9.55"/>
<polyline points="850 85 800 215" class="l" stroke-width="9.55"/>
<polyline points="900 235 800 380" class="l" stroke-width="9.55"/>
<polyline points="895 375 810 455" class="l" stroke-width="9.55"/>
<polyline points="1245 125 1365 300" class="l" stroke-width="9.55"/>
<polyline points="420 650 340 665" class="l" stroke-width="9.55"/>
<polyline points="600 650 545 905" class="l" stroke-width="9.55"/>
<polyline points="130 1060 335 950" class="l" stroke-width="9.55"/>
<polyline points="250 1145 490 1030" class="l" stroke-width="9.55"/>
<polyline points="425 1285 685 1135 610 1075" class="l" stroke-width="9.55"/>
<polyline points="0 975 325 830" class="l" stroke-width="9.55"/>
<polyline points="0 770 80 735" class="l" stroke-width="9.55"/>
<polyline points="740 1440 1110 1180" class="l" stroke-width="9.55"/>
<polyline points="905 1528 1160 1350" class="l" stroke-width="9.55"/>
<polyline points="1120 1528 1175 1490" class="l" stroke-width="9.55"/>
<polyline points="360 940 395 965" class="l" stroke-width="9.55"/>
<polyline points="470 965 530 1025" class="l" stroke-width="9.55"/>
<polyline points="685 870 775 980 735 1000" class="l" stroke-width="9.55"/>
<polyline points="735 1040 900 1185" class="l" stroke-width="9.55"/>
<polyline points="1328 460 1328 1300" class="l" stroke-width="9.55"/>
<polyline points="2045 225 2122 200" class="l" stroke-width="9.55"/>
</g>
<g transform="translate(1722,860) scale(0.18850)" stroke-width="10.08">
<text transform="translate(835,112) scale(3.501,5.305)" class="n">22</text>
<text transform="translate(835,345) scale(3.501,5.305)" class="n">25</text>
<text transform="translate(865,665) scale(3.501,5.305)" class="n">22</text>
<text transform="translate(872,845) scale(3.501,5.305)" class="n">12</text>
<text transform="translate(868,1035) scale(3.501,5.305)" class="n">24</text>
<polyline points="414 200 825 62" class="l" stroke-width="9.55"/>
<polyline points="825 295 420 440" class="l" stroke-width="9.55"/>
<polyline points="855 620 520 750" class="l" stroke-width="9.55"/>
<polyline points="862 795 525 935" class="l" stroke-width="9.55"/>
<polyline points="860 985 645 1020" class="l" stroke-width="9.55"/>
</g>
<g transform="translate(1400,1120) scale(0.34025)" stroke-width="5.58">
<text transform="translate(5,112) scale(1.940,2.939)" class="n">13</text>
<text transform="translate(5,215) scale(1.940,2.939)" class="n">14</text>
<text transform="translate(358,210) scale(1.940,2.939)" class="n">31</text>
<text transform="translate(362,325) scale(1.940,2.939)" class="n">30</text>
<text transform="translate(352,468) scale(1.940,2.939)" class="n">109</text>
<text transform="translate(995,258) scale(1.940,2.939)" class="n">23</text>
<text transform="translate(1100,338) scale(1.940,2.939)" class="n">12</text>
<text transform="translate(1203,400) scale(1.940,2.939)" class="n">13</text>
<text transform="translate(1312,448) scale(1.940,2.939)" class="n">22</text>
<text transform="translate(1425,552) scale(1.940,2.939)" class="n">21</text>
<polyline points="400 158 501 82" class="l" stroke-width="5.29"/>
<polyline points="405 268 620 82" class="l" stroke-width="5.29"/>
<polyline points="385 405 645 148" class="l" stroke-width="5.29"/>
<polyline points="1050 195 1185 125" class="l" stroke-width="5.29"/>
<polyline points="1150 278 1320 178" class="l" stroke-width="5.29"/>
<polyline points="1250 345 1415 240" class="l" stroke-width="5.29"/>
<polyline points="1352 390 1445 318" class="l" stroke-width="5.29"/>
<polyline points="1470 490 1700 325" class="l" stroke-width="5.29"/>
</g>
<g transform="translate(0,0) scale(1.00000)" stroke-width="1.90">
<text transform="translate(1030,420.5) scale(0.660,1.000)" class="n">71</text>
<text transform="translate(1016,902) scale(0.660,1.000)" class="n">7</text>
<polyline points="1005.5 900 1016 895" class="l" stroke-width="1.80"/>
<polyline points="772.6 460 917.7 381" class="l" stroke-width="1.80"/>
<polyline points="724.7 486.6 748.8 475" class="l" stroke-width="1.80"/>
<polyline points="1060 303.75 1156 250 1227 297" class="l" stroke-width="1.80"/>
</g>
<g transform="translate(1500,760) scale(0.09425)" stroke-width="20.16">
</g>
<g transform="translate(130,470) scale(0.08507)" stroke-width="22.33">
</g>
<g transform="translate(630,165) scale(0.09166)" stroke-width="20.73">
</g>
<g transform="translate(810,110) scale(0.06215)" stroke-width="30.57">
</g>
<g transform="translate(1650,100) scale(0.12438)" stroke-width="15.28">
</g>
<g transform="translate(1740,200) scale(0.13089)" stroke-width="14.52">
</g>
<g transform="translate(1880,1140) scale(0.09818)" stroke-width="19.35">
</g>
</g>
<g opacity="0.3" stroke="none">
<!-- H -->
<path fill="#000" d="M550,711 H605.4 V775.5 H666.7 V711 H723.2 V897 H666.7 V821.5 H605.4 V897 H550 Z"/>
<!-- U umlaut -->
<rect fill="#000" x="773.9" y="656.5" width="41.1" height="27.1"/>
<rect fill="#000" x="878.7" y="656.5" width="40.1" height="27.1"/>
<path fill="#000" d="M759.7,711 H815 V826 A31.85,32 0 0 0 878.7,826 V711 H933 V822 A86.65,79.6 0 0 1 759.7,822 Z"/>
<!-- T -->
<path fill="#000" d="M957.7,711 H1126.6 V756.7 H1069.6 V897 H1014.6 V756.7 H957.7 Z"/>
<!-- E -->
<path fill="#000" d="M1151.3,711 H1303.3 V748.4 H1206.7 V780 H1296 V818 H1206.7 V855.6 H1303.5 V897 H1151.3 Z"/>
<!-- R + grey swoosh -->
<path fill="#000" d="M1334.5,711.5 H1424 V750 H1389.3 V790 H1420 C1432,790 1437,783 1437,770 V754 H1497 C1499,785 1490,805 1472,815 L1510,896 H1449 L1392,812 H1389.3 V896 H1334.5 Z"/>
<path fill="#000" d="M1445,632 C1420,650 1405,675 1403,705 H1426 C1430,690 1445,668 1471.4,652.5 L1492.5,651.2 L1508.4,632 Z"/>
<!-- red -->
<path fill="#E30613" d="M1470,657.1 H1534.9 L1521.6,672.3 L1496.5,673 C1480,684 1466,704 1460,728.5 H1429.7 C1431,705 1444,678 1470,657.1 Z"/>
<!-- yellow -->
<path fill="#FFED00" d="M1495.2,677 H1560.6 L1532.2,722.5 L1526.9,749 H1463.5 C1465,722 1476,694 1495.2,677 Z"/>
</g>

</svg>
</body></html>
